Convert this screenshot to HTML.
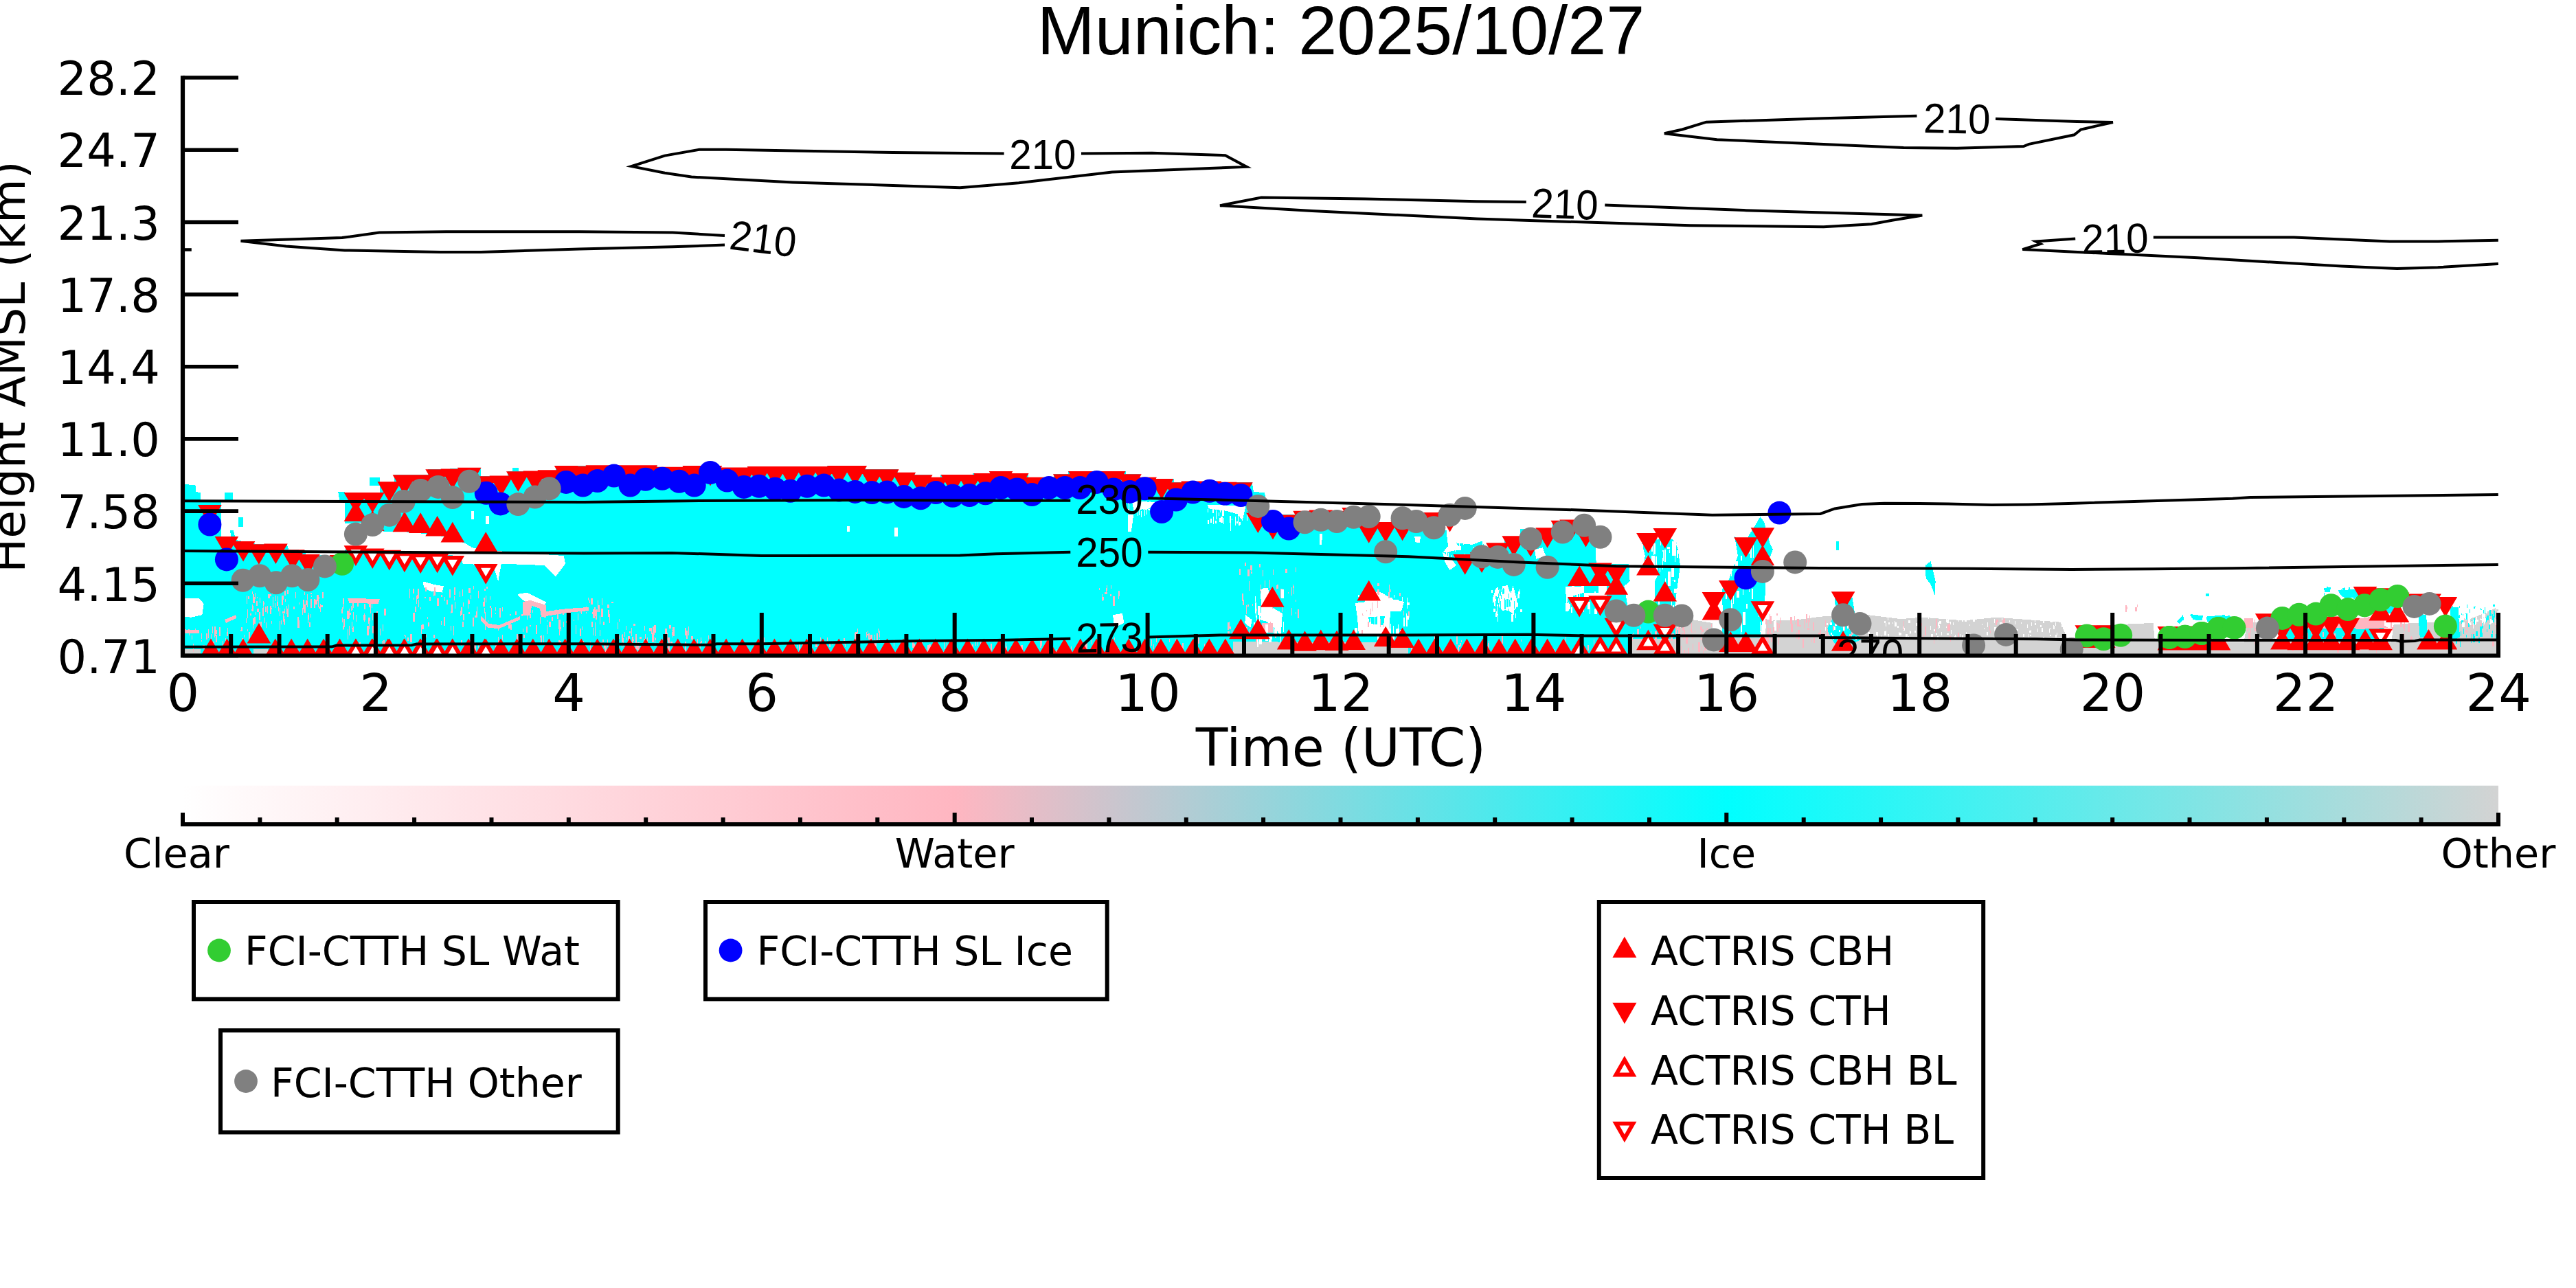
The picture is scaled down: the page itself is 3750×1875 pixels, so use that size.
<!DOCTYPE html>
<html lang="en"><head><meta charset="utf-8"><title>Munich: 2025/10/27</title>
<style>html,body{margin:0;padding:0;background:#fff}svg{display:block}.dj{font-family:'DejaVu Sans','Liberation Sans',sans-serif}.ls{font-family:'Liberation Sans',sans-serif}</style></head><body>
<svg width="3750" height="1875" viewBox="0 0 3750 1875">
<rect width="3750" height="1875" fill="#fff"/>
<defs><clipPath id="ax"><rect x="266" y="113" width="3371" height="841.5"/></clipPath>
<linearGradient id="cb" x1="0" x2="1" y1="0" y2="0"><stop offset="0" stop-color="#ffffff"/><stop offset="0.3333" stop-color="#ffb6c1"/><stop offset="0.6667" stop-color="#00ffff"/><stop offset="1" stop-color="#d3d3d3"/></linearGradient></defs>
<g clip-path="url(#ax)" shape-rendering="crispEdges">
<polygon points="1794.7,933.7 2050,933.7 2050,960.5 1794.7,960.5" fill="#d3d3d3"/>
<polygon points="2050,930.2 2371.4,930.2 2376.1,916.2 2446,913.9 2464.6,902.2 2492.5,906.9 2492.5,927.9 2569.4,927.9 2571.7,902.2 2609,903.4 2650,897.6 2650,960.5 2050,960.5" fill="#d3d3d3"/>
<polygon points="2650,897.6 2719.9,895.2 2766.5,901.1 2799.1,898.7 2859.6,903.4 2906.2,898.7 2952.8,902.2 2999.4,905.7 3008.7,927.9 3022.7,927.9 3027.3,911.6 3134.5,906.9 3136.8,932.5 3250,934.8 3250,960.5 2650,960.5" fill="#d3d3d3"/>
<polygon points="3150,934.8 3266.5,934.8 3271.1,906.9 3308.4,904.6 3313,934.8 3480.7,934.8 3485.4,909.2 3513.4,906.9 3580.9,904.6 3592.5,902.2 3615.8,892.9 3636.8,883.6 3636.8,960.5 3150,960.5" fill="#d3d3d3"/>
<polygon points="264,704.3 284.9,706.6 284.9,715.9 291.9,717.1 291.9,727.5 322.2,729.9 322.2,781.1 347.8,786.9 371.1,791.6 417.7,792.8 420,799.8 443.3,800.9 445.7,807.9 501.6,809.1 501.6,718.2 552.8,717.1 552.8,701.9 573.8,701.5 573.8,691.4 622.7,691.4 622.7,683.3 699.5,681.4 699.5,693.3 739.1,692.6 739.1,686.3 809,685.2 809,678.2 850,678.2 957.1,677.5 957.1,679.8 994.4,679.8 994.4,678.2 1050.3,678.2 1050.3,680.5 1087.6,680.5 1087.6,679.1 1204,679.1 1204,678.2 1259.9,678.2 1259.9,683.3 1306.5,683.3 1306.5,688 1332.1,688 1332.1,691.4 1355.4,691.4 1355.4,694.9 1369.4,694.9 1369.4,691 1416,691 1416,689.1 1450,689.1 1450,686.1 1473.3,686.1 1473.3,689.1 1496.6,689.1 1496.6,694.9 1533.9,694.9 1533.9,690.3 1554.8,690.3 1554.8,686.1 1638.7,686.1 1638.7,690.3 1658.5,690.3 1658.5,694.9 1682.9,694.9 1682.9,697.3 1708.5,697.3 1708.5,701.5 1822.7,701.5 1825,715.9 1841.3,717.1 1843.6,748.5 1892.5,748.5 1892.5,743.9 1985.7,743.9 1985.7,760.6 2050,760.6 2050,771.8 2105.9,771.8 2108.2,781.1 2157.1,786.9 2161.8,797.4 2189.8,799.8 2189.8,781.1 2213,781.1 2213,769.5 2259.6,769.5 2259.6,760.2 2317.9,760.2 2322.5,790.4 2323.7,820.7 2371.4,820.7 2372.6,846.3 2364.4,853.3 2371.4,892.9 2413.4,897.6 2441.3,904.6 2443.6,927.9 2443.6,960.5 2050,960.5 264,960.5" fill="#00ffff"/>
<polygon points="2390.1,790.4 2399.4,781.1 2413.4,785.8 2422.7,776.5 2441.3,790.4 2446,823 2441.3,858 2436.6,895.2 2408.7,895.2 2408.7,846.3 2413.4,837 2392.4,837 2394.7,809.1" fill="#00ffff"/>
<polygon points="2506.5,858 2515.8,846.3 2529.8,809.1 2525.2,781.1 2539.1,790.4 2557.8,760.2 2562.4,752 2568.2,760.2 2576.4,790.4 2581.1,799.8 2571.7,823 2569.4,869.6 2562.4,927.9 2506.5,927.9" fill="#00ffff"/>
<polygon points="326.9,717.1 338.5,717.1 338.5,727.5 326.9,727.5" fill="#00ffff"/>
<polygon points="346.7,753.2 353.6,753.2 353.6,767.1 346.7,767.1" fill="#00ffff"/>
<polygon points="335,771.8 339.7,771.8 342,781.1 336.2,781.1" fill="#00ffff"/>
<polygon points="537.7,694.9 552.8,694.9 552.8,706.6 537.7,706.6" fill="#00ffff"/>
<polygon points="492.2,715.9 501.6,715.9 501.6,729.9 494.6,729.9" fill="#00ffff"/>
<polygon points="746.1,681 755.4,681 755.4,686.8 746.1,686.8" fill="#00ffff"/>
<polygon points="2673.3,788.1 2676.8,788.1 2676.8,800.9 2673.3,800.9" fill="#00ffff"/>
<polygon points="2802.6,823 2810.7,817.2 2817.7,846.3 2816.5,866.1 2810.7,851 2803.7,841.7" fill="#00ffff"/>
<polygon points="2671,869.6 2696.6,869.6 2700.1,892.9 2691.9,916.2 2710.6,930.2 2696.6,937.2 2671,937.2 2659.3,916.2 2672.1,892.9" fill="#00ffff"/>
<polygon points="3211.3,863.8 3216,863.8 3216,867.8 3211.3,867.8" fill="#00ffff"/>
<polygon points="3169.4,905.7 3177.6,895.2 3178.7,902.2 3172.9,908.1" fill="#00ffff"/>
<polygon points="3188,895.2 3206.7,896.4 3205.5,903.4 3192.7,902.2" fill="#00ffff"/>
<polygon points="3211.3,897.6 3246.3,896.4 3250,906.9 3213.7,904.6" fill="#00ffff"/>
<polygon points="3168.6,904.6 3178,895.2 3179.1,902.2 3172.1,906.9" fill="#00ffff"/>
<polygon points="3188.4,894.1 3207.1,896.4 3205.9,902.2 3191.9,901.1" fill="#00ffff"/>
<polygon points="3211.7,897.6 3238.5,895.2 3238.5,902.2 3212.9,904.6" fill="#00ffff"/>
<polygon points="3211.7,863.8 3216.4,863.8 3216.4,867.8 3211.7,867.8" fill="#00ffff"/>
<polygon points="3382.9,855.7 3392.2,856.8 3392.2,861.5 3384.1,861.5" fill="#00ffff"/>
<polygon points="3403.9,859.1 3429.5,858 3436.5,869.6 3413.2,870.8 3406.2,865" fill="#00ffff"/>
<polygon points="3520.3,892.9 3532,895.2 3534.3,927.9 3522.7,927.9" fill="#00ffff"/>
<polygon points="3566.9,883.6 3578.6,883.6 3580.9,927.9 3569.3,932.5" fill="#00ffff"/>
<polygon points="3473.8,883.6 3485.4,881.3 3483.1,892.9 3474.9,892.9" fill="#00ffff"/>
<polygon points="501.6,762.5 529.5,760.2 559.8,774.1 599.4,774.6 646,781.1 676.2,790.4 687.9,797.4 725.2,802.1 820.7,809.1 823,820.7 809,839.3 792.7,823 729.8,820.7 725.2,846.3 718.2,823 673.9,820.7 669.3,809.1 501.6,799.8" fill="#ffffff"/>
<polygon points="264,870.8 289.6,870.8 296.6,878.9 294.3,895.2 278,898.7 264,897.6" fill="#ffffff"/>
<polygon points="615.7,846.3 632,851 646,853.3 643.6,862.6 625,860.3 616.8,854.5" fill="#ffffff"/>
<polygon points="753.1,865 767.1,862.6 795,876.6 792.7,881.3 769.4,877.8 760.1,873.1" fill="#ffffff"/>
<polygon points="685.6,743.9 690.2,743.9 690.2,755.5 685.6,755.5" fill="#ffffff"/>
<polygon points="706.5,750.8 712.3,750.8 712.3,762.5 706.5,762.5" fill="#ffffff"/>
<polygon points="1233.2,766 1236.6,766 1236.6,773.7 1233.2,773.7" fill="#ffffff"/>
<polygon points="1301.9,768.3 1306.5,768.3 1306.5,781.1 1301.9,781.1" fill="#ffffff"/>
<polygon points="1648,729.9 1682.9,731 1673.6,740.4 1650.3,742.7" fill="#ffffff"/>
<polygon points="1642.2,748.5 1650.3,748.5 1646.8,774.1 1642.2,774.1" fill="#ffffff"/>
<polygon points="1757.5,734.5 1813.4,736.9 1808.7,757.8 1801.7,748.5 1785.4,743.9 1759.8,740.4" fill="#ffffff"/>
<polygon points="1834.3,858 1846,855.7 1850.6,883.6 1866.9,892.9 1864.6,925.5 1853,911.6 1843.6,904.6 1834.3,902.2 1836.6,883.6" fill="#ffffff"/>
<polygon points="1813.4,895.2 1822.7,902.2 1820.3,913.9 1812.2,906.9" fill="#ffffff"/>
<polygon points="1620,895.2 1634,892.9 1636.3,906.9 1622.4,913.9" fill="#ffffff"/>
<polygon points="1973,878 1990,876 2004,861 2012,863 2026,872 2044,876 2040,890 2024,890 2022,925 1978,925 1976,900" fill="#ffffff"/>
<polygon points="1920.5,776.5 1925.2,776.5 1924,792.8 1921,792.8" fill="#ffffff"/>
<polygon points="2105.9,776.5 2159.5,786.9 2143.2,792.8 2119.9,790.4 2126.9,799.8 2101.2,804.4 2112.9,813.7 2119.9,823 2110.6,830 2103.6,818.4 2100.1,804.4 2108.2,795.1" fill="#ffffff"/>
<polygon points="2059.3,781.1 2068.6,781.1 2066.3,790.4 2060.5,789.3" fill="#ffffff"/>
<polygon points="2176.9,858 2180.4,854.5 2183.9,869.6 2187.4,853.3 2194.4,852.2 2199.1,865 2202.6,852.2 2207.2,869.6 2209.5,881.3 2201.4,892.9 2194.4,887.1 2187.4,889.4 2181.6,882.4 2175.8,883.6 2173.4,869.6" fill="#ffffff"/>
<polygon points="2280.6,854.5 2306.2,853.3 2306.2,869.6 2338.8,869.6 2338.8,853.3 2327.2,853.3 2327.2,862.6 2306.2,862.6 2282.9,869.6 2279.4,885.9" fill="#ffffff"/>
<polygon points="2234,799.8 2245.7,797.4 2250.3,809.1 2236.3,813.7" fill="#ffffff"/>
<polygon points="3318,912 3470,912 3470,932 3318,932" fill="#00ffff"/>
<polygon points="1992,898 2016,897 2014,910 1994,908" fill="#00ffff"/>
<polygon points="264,945.3 291.9,945.3 291.9,960.5 264,960.5" fill="#d3d3d3"/>
<polygon points="368.8,945.3 389.8,945.3 389.8,960.5 368.8,960.5" fill="#d3d3d3"/>
<polygon points="1794.7,933.7 1859.9,933.7 1859.9,934.8 2050,934.8 2050,960.5 1794.7,960.5" fill="#d3d3d3"/>
<polygon points="2371.4,930.2 2446,930.2 2446,960.5 2371.4,960.5" fill="#d3d3d3"/>
<polygon points="3318,906 3400,906 3470,900 3470,914 3318,915" fill="#ffb6c1"/>
<polygon points="761,876 772,874 795,881 795,899 788,898 786,886 774,882 772,896 761,896" fill="#ffb6c1"/>
<polygon points="506.2,870.8 552.8,872 550.5,878.9 508.5,877.8" fill="#ffb6c1"/>
<polygon points="700,897 712,908 727,910 757,897 757,902 727,915 710,914 700,904" fill="#ffb6c1"/>
<polygon points="795,890 826,886 857,884 857,889 826,892 795,897" fill="#ffb6c1"/>
<polygon points="326.9,902.2 343.2,895.2 344.3,899.9 329.2,906.9" fill="#ffb6c1"/>
<polygon points="264,916.2 289.6,917.4 289.6,922 264,922" fill="#ffb6c1"/>
<polygon points="3266.5,899.9 3280.4,899.9 3280.4,913.9 3266.5,913.9" fill="#ffb6c1"/>
<polygon points="3424.8,902.2 3452.8,897.6 3476.1,913.9 3429.5,916.2" fill="#ffb6c1"/>
<polygon points="1836.6,906.9 1853,906.9 1853,920.9 1836.6,920.9" fill="#ffb6c1"/>
<path d="M391.7 865.4h3v2.6h-3zM452 862.6h2v2.7h-2zM413.9 859.8h2v7h-2zM381.6 884.9h1v11.9h-1zM367.5 868.9h3v9h-3zM360 886.6h1v13.7h-1zM358.1 900h1v7h-1zM418 885.9h2v11.8h-2zM374.4 886.4h3v4.3h-3zM364.3 892.8h2v2.7h-2zM377.4 891.3h2v11.3h-2zM408.9 903.1h1v5.6h-1zM448.7 892.2h1v3h-1zM388.9 882.2h1v10.8h-1zM387.4 905.9h1v8.1h-1zM372.5 874.7h2v7.1h-2zM469 861.8h2v8.9h-2zM458.5 873.3h3v6.2h-3zM412.6 897h1v12.1h-1zM466.9 881.2h3v2.8h-3zM441 873.1h2v13.9h-2zM452 871.9h2v12.6h-2zM394.5 904h1v4h-1zM366.7 860.9h1v3.6h-1zM382.5 877.1h2v3h-2zM406.9 884.9h1v11.8h-1zM457.1 871.6h2v13.8h-2zM435.2 876.6h1v3.8h-1zM373.8 869.3h1v2.1h-1zM453.1 866.9h1v2h-1zM403.2 876h2v5.8h-2zM367.7 900h2v9.9h-2zM442.1 880.3h3v11.6h-3zM400 877.5h1v7.8h-1zM401 867.3h1v7.3h-1zM365.8 887.4h1v2h-1zM370.8 862.9h1v9.4h-1zM361 868.2h2v3.8h-2zM383 875h1v7.7h-1zM366.5 881.9h2v7.8h-2zM390.3 865h3v6.1h-3zM384.6 898.5h1v8.2h-1zM377.3 904.5h1v3.8h-1zM418.3 859.3h2v5.6h-2zM430.4 862.4h1v8.2h-1zM462.5 875.4h1v8.4h-1zM446.8 874.1h1v9.4h-1zM448 895.1h1v11.7h-1zM451.6 894.2h1v4.4h-1zM412.2 893.7h1v11.5h-1zM409.7 867.5h2v13.5h-2zM406.7 903.8h1v13.5h-1zM396.6 868.8h1v7.6h-1zM393.4 881.6h2v12.1h-2zM410.6 889.9h3v3h-3zM432.5 902.5h3v11h-3zM410.4 866.7h3v6h-3zM449.5 905.5h2v7.6h-2zM442.5 862.1h1v4h-1zM367.9 865.4h2v11.7h-2zM370.2 898.4h2v9.9h-2zM394.9 884.8h1v2.3h-1zM449.3 893.5h1v8.3h-1zM465.6 879.2h1v11.9h-1zM378 870.3h1v8h-1zM445 873.9h2v7h-2zM368.4 902.5h1v12.8h-1zM432.7 897.8h2v7h-2zM463.6 882.5h2v3.8h-2zM414.3 900.7h1v9.3h-1zM446.5 865.3h1v7.7h-1zM440.3 885.2h1v10.2h-1zM416.8 881.6h1v12.6h-1zM359.4 867.3h1v11.3h-1zM414 885.5h1v7.3h-1zM426.7 882.7h2v4.4h-2zM386.1 882.8h2v8.1h-2zM382.5 883.6h1v13.1h-1zM460.6 867.9h2v3.6h-2zM367.2 879.6h1v10.1h-1zM404.4 868.4h1v11.4h-1zM461.1 865.5h3v9.7h-3zM396.8 870.4h1v13.6h-1zM379.1 904.6h2v12.6h-2zM372.2 890.6h1v3.9h-1zM404.7 883.2h1v7.1h-1zM395.7 862.5h1v2.2h-1zM419.6 879.5h1v6.6h-1zM415.2 872.4h1v3.4h-1zM463.7 869.2h1v3h-1z" fill="#ffb6c1"/>
<path d="M514 911.8h1v5.2h-1zM505 889.3h3v11.8h-3zM513.2 876.6h2v8.8h-2zM540.9 873.8h1v11.6h-1zM508.4 911.3h1v13.3h-1zM536.8 907h1v9.3h-1zM510.9 881.9h1v7.4h-1zM518.2 895.4h1v9.5h-1zM499.6 902.7h1v13.6h-1zM513.4 878.1h1v9.5h-1zM530.3 879.2h2v8h-2zM508.1 885.8h1v13.9h-1zM499.2 870.5h2v8.6h-2zM508.8 891.7h2v3.3h-2zM548.4 889.8h2v8.6h-2zM552.8 914.8h1v10.3h-1zM558.7 885.6h3v10.7h-3zM505.7 915.7h1v12h-1zM497.8 898.8h1v7.2h-1zM500.4 900.6h2v12.4h-2zM539.1 882.8h1v10.3h-1zM499.7 878.3h1v7.3h-1zM513.4 914.4h2v5.9h-2zM499.1 910.7h1v6.3h-1zM497 887.4h2v5.3h-2zM538.2 881.2h1v3.1h-1zM548.3 876.3h2v2.5h-2zM498.3 883.8h1v3h-1zM557.1 909.4h1v9.9h-1zM541.9 910.6h2v11.2h-2zM542.2 892.6h1v10.7h-1zM537.3 871.7h3v12.7h-3zM536.3 903.8h2v3.7h-2zM529.8 893.1h1v11.9h-1zM533.6 911.2h3v13.5h-3zM537.3 873.6h1v3.6h-1zM519.6 874.5h2v8.7h-2zM536.4 898.8h3v4.9h-3zM513.5 890.9h1v11h-1zM528.5 894.6h3v8.3h-3zM543.8 891.7h1v12.2h-1zM511.7 904.9h1v10.9h-1z" fill="#ffb6c1"/>
<path d="M712.9 882.1h2v2.9h-2zM705 870.1h1v9.4h-1zM672.6 857.8h1v6h-1zM673.6 893.7h2v8.8h-2zM596.2 856.9h1v13.7h-1zM606.8 866h2v5.5h-2zM657.3 880.4h2v11.2h-2zM715 885.3h1v13.7h-1zM708.1 854.3h2v2.9h-2zM656.1 911.2h1v6.6h-1zM705.7 907.5h1v9h-1zM611.9 883.8h1v3.6h-1zM694.1 882.9h1v10.4h-1zM622.7 905.6h2v6.7h-2zM614 908.6h3v7.4h-3zM631.3 861.5h1v6.5h-1zM609.4 872.6h1v11h-1zM696.4 860.3h1v10.6h-1zM703.9 870.2h1v2.8h-1zM642 904h1v6.3h-1zM646.6 869.3h1v5.4h-1zM601 891.9h3v13.2h-3zM624.9 868.8h2v5.8h-2zM688.4 899h2v12.6h-2zM693.1 890.1h2v8.6h-2zM681.9 856.2h3v6.9h-3zM669.2 861.4h1v7.8h-1zM705.2 885.4h1v7.7h-1zM636.3 870.7h3v10.9h-3zM673.8 877h1v5.6h-1zM662.2 876.3h1v9.7h-1zM603.8 882.5h2v8.6h-2zM649.6 872.7h2v7.1h-2zM661.1 867.5h1v6.1h-1zM605.8 867.2h1v11.7h-1zM619.2 854.5h2v6.6h-2zM685.1 865.6h1v6.1h-1zM602.2 869.5h1v3.5h-1zM655.7 890h1v3.1h-1zM703.3 875.7h3v7.4h-3zM710.3 902.7h1v3.5h-1zM646.2 897.8h2v13.6h-2zM654 857.6h2v12.3h-2zM712.5 867.8h1v4.7h-1zM613.1 909.9h1v13.3h-1zM682.1 891h2v3h-2zM688.8 853.4h1v4.8h-1zM706.1 890.9h1v13.5h-1zM670.6 884.1h2v10.4h-2zM608.3 857.4h2v13.3h-2zM617.9 868.5h2v2h-2zM659.8 911.3h1v13.5h-1zM672.8 904.8h2v8.3h-2zM661 855h2v10.5h-2zM632 854.6h2v12.6h-2zM673.1 858h1v10h-1zM706.8 866.5h1v10.3h-1zM681.7 874.4h2v4.4h-2zM691.3 896.4h2v2.8h-2zM654.8 865h1v4.8h-1zM621.5 897.6h1v3.3h-1zM670.2 888.8h1v7.8h-1zM705 856.6h2v3.8h-2zM642.4 865.7h2v3.7h-2zM601 856.8h2v7.4h-2zM681 871.6h1v14h-1z" fill="#ffb6c1"/>
<path d="M840.8 892.8h1v9.8h-1zM786.2 897.6h1v10h-1zM766.6 894.3h1v7.3h-1zM730.5 884h1v6.2h-1zM844 885.6h1v6.6h-1zM819 892.1h2v3.1h-2zM810.5 888.1h2v13h-2zM741.7 894h2v2.4h-2zM771 909.6h2v2.5h-2zM720.5 883.5h1v5.1h-1zM816.1 912.7h1v6.4h-1zM760.8 914.6h1v5.1h-1zM812 892.3h1v5.6h-1zM812.6 902.1h3v13.4h-3zM724.6 910.1h1v7.7h-1zM844.2 914.6h2v11.5h-2zM838.4 909.7h1v13.1h-1zM740.4 909.3h3v5.6h-3zM808.7 886.6h1v5.9h-1zM758.7 893.9h2v2.9h-2zM742.3 907.6h1v6.9h-1zM803 898.1h2v5.9h-2zM847.4 912.1h1v5.2h-1zM727.1 884.6h2v13.9h-2zM846.3 887.3h1v7h-1zM799.1 904.8h3v8.5h-3zM819.7 907.8h1v5.5h-1zM791.9 894.3h3v5.1h-3zM774.8 887.8h1v3.8h-1zM834.5 901.5h1v2.8h-1zM749.6 889.9h2v4.8h-2zM824.3 904.1h1v3.2h-1zM779.5 909.9h2v13h-2zM721.3 891.5h1v2.6h-1zM796.4 910.2h1v13.2h-1zM765.8 911.5h2v9.2h-2zM819.8 904.5h1v3.3h-1zM795.8 902.9h1v2.4h-1zM761.5 882.8h1v2.5h-1zM814.1 913.2h1v11.8h-1zM770.7 894.3h2v5.7h-2zM743.1 909.1h2v7.8h-2z" fill="#ffb6c1"/>
<path d="M308.6 933.8h3v8.6h-3zM331.2 914.1h1v6.8h-1zM295.2 939.2h3v5.7h-3zM361.9 920.3h2v12.6h-2zM309.1 912.1h1v9.7h-1zM306.9 922.9h1v7.2h-1zM283.9 914.7h1v6.9h-1zM355 924.4h1v3.6h-1zM273.7 915.5h2v3.1h-2zM329.5 921.9h2v4.1h-2zM302.7 916.1h1v13.1h-1zM279.3 925.3h1v5.6h-1zM350.5 912.8h2v5.8h-2zM328.1 929.3h1v12.9h-1zM329.3 934.6h1v9.7h-1zM352.4 928.9h2v12.2h-2zM349.7 916.7h1v2.5h-1zM360.4 915.9h1v3.5h-1zM292.8 931.8h1v2.5h-1zM323.6 932.7h1v10h-1zM300.3 922.4h2v8.6h-2zM330 920.1h2v5.7h-2zM293 922.4h1v7.4h-1zM311.5 912.2h2v13.8h-2zM314.1 924h2v11.4h-2zM313.5 916.6h2v6.8h-2zM275.2 921.6h1v3.1h-1zM311.9 925.8h1v2.5h-1zM281.4 937.3h1v11.3h-1zM318.7 913.1h2v12.7h-2z" fill="#ffb6c1"/>
<path d="M730.6 934.2h1v12.3h-1zM848.7 933.4h1v4.3h-1zM843.7 930.1h1v10.2h-1zM754.1 926.3h1v9.3h-1zM592.9 927.7h2v5.3h-2zM786.6 925.2h2v13.6h-2zM671.3 931.5h2v8.1h-2zM615.9 923.7h1v6.8h-1zM725.1 927.1h1v12.7h-1zM564.2 934.2h1v11.2h-1zM522.9 935.2h2v8.7h-2zM705.6 935.5h1v5h-1zM690.4 935.2h3v11.6h-3zM597.2 937h2v3.8h-2zM619.9 924.3h1v4.1h-1zM761.9 923.9h2v5h-2zM726 937h2v13.1h-2zM814.2 933.4h3v2.4h-3zM557.6 931.8h2v7h-2zM631.4 923.9h2v4.7h-2zM730.7 923.5h1v8.8h-1zM610.6 930.5h2v4.7h-2zM706.8 931.4h1v6.4h-1zM791 925.4h1v13.2h-1zM590 925.3h1v2.8h-1zM556 932.5h1v6.8h-1zM597.1 923.4h3v11.9h-3zM813.1 931.5h2v7.3h-2zM828.4 933.4h1v4h-1zM506.3 924.1h1v6.9h-1zM587.9 924h1v2.1h-1zM695.6 936.3h1v7h-1zM684.4 932.2h3v9.7h-3zM785.8 925.6h1v2.8h-1zM721.4 937.1h3v11.4h-3zM752.2 923.3h2v10.9h-2z" fill="#ffb6c1"/>
<path d="M868.4 886.9h2v4.1h-2zM889.5 875.7h3v2.5h-3zM863.3 887.1h3v13.3h-3zM860.4 870.9h3v8.6h-3zM867.3 888h2v13.7h-2zM861.7 891.3h1v3h-1zM870.1 873.6h1v12.1h-1zM858 873.3h1v4.3h-1zM865.4 883.6h2v12.9h-2zM875 885.8h3v12.1h-3zM871.2 880.6h2v10.4h-2zM884 879.8h3v4.8h-3zM885 888h2v9.5h-2zM853.1 890.8h1v2.4h-1zM854.4 884.1h1v6.1h-1zM855.6 870.3h1v3.7h-1zM875.5 870.6h1v10.8h-1zM852.6 883.4h1v4.4h-1z" fill="#ffb6c1"/>
<path d="M921.6 907.8h3v2.8h-3zM915.9 918.5h2v3.3h-2zM872.7 896h1v13.4h-1zM918.7 914h1v11.9h-1zM900.5 901h1v3.6h-1zM911 911h1v5.8h-1zM887 893.5h1v13.2h-1zM862.5 914.2h1v11.2h-1zM898.6 906.2h1v9.4h-1zM861.3 904.5h2v8.2h-2zM865.7 906h1v8.5h-1zM873.4 917h1v8.9h-1zM878 905.1h2v4.4h-2zM909 920.3h1v6.2h-1zM865.6 912.4h1v13.6h-1z" fill="#ffb6c1"/>
<path d="M977.6 920.3h2v5.1h-2zM1002.1 911.7h1v13.3h-1zM952.4 910.2h3v11.2h-3zM970.4 920.8h2v11.4h-2zM980.1 912.6h2v13.1h-2zM998.5 917.6h2v12.7h-2zM937.9 910.7h1v7.1h-1zM974.3 910.3h3v4.8h-3zM968.4 914.9h3v11h-3zM981.3 912.5h1v8.3h-1zM996.8 913.8h2v10.9h-2zM948 913.7h1v9h-1zM945 914h3v4.9h-3zM949.6 911.9h3v11.9h-3zM979.3 917.3h1v10.7h-1zM978.3 912.5h1v5.9h-1zM949.4 920.6h3v13.9h-3zM947.7 916.5h1v6.6h-1z" fill="#ffb6c1"/>
<path d="M1033.3 935.2h3v5.6h-3zM901 924.9h1v5.4h-1zM1015 930.2h1v6.8h-1zM997.4 933.7h2v13.8h-2zM905.2 923.5h1v9.2h-1zM925.4 934.4h2v10.4h-2zM959.5 933h1v10h-1zM971.6 936.5h3v10.4h-3zM1008.8 933.5h3v3.5h-3zM930.6 927.1h3v3.2h-3zM928.2 935h3v10.6h-3zM879.2 936.1h2v7.5h-2zM965.8 929.4h3v9.9h-3zM1012.7 936.7h1v11.3h-1zM922.4 930.6h1v2.5h-1zM951.2 925.6h1v8.2h-1zM868.8 931.9h2v4.5h-2zM938.6 923.4h1v8.3h-1zM926.5 937.6h1v13.9h-1zM884.2 931h1v10.7h-1zM964.4 932.9h1v5.3h-1zM924.5 923.4h2v13h-2zM967.1 933.4h2v5.2h-2zM891.8 934.4h2v13.7h-2zM1035.3 937.7h2v4.5h-2zM874.1 935h3v4.3h-3zM969.7 934.1h1v6.2h-1zM969 935.6h2v7.6h-2zM904.8 931.5h1v11.4h-1zM937.5 935.1h1v5.2h-1zM920.1 927h2v10.1h-2zM939.7 935.4h1v6.3h-1zM971.9 928h2v7.1h-2zM968.8 933.2h1v3.8h-1zM906.5 929h1v11.9h-1zM1018.8 935.1h1v8.4h-1zM914.3 932h3v2.1h-3zM1027.3 933.1h1v9.3h-1zM957.8 936.1h1v11.3h-1zM914.6 925.5h2v11.5h-2zM881.3 936.7h2v13.7h-2zM866.8 936.8h2v11.5h-2zM1006.3 926.2h3v4.6h-3zM864.6 935.9h3v12.6h-3zM953.4 927.2h1v11.9h-1zM938.2 931.6h2v7.6h-2zM876.9 930.6h2v4h-2zM961.7 934.3h1v12.1h-1zM937.2 931.7h3v5.6h-3zM936.8 929.6h3v2.9h-3zM968.7 932.8h1v2.2h-1zM858.5 934.3h1v11.7h-1zM867.5 930.5h1v2.4h-1zM983.8 932.7h1v3.1h-1zM972.8 928.4h2v8.6h-2zM1020 927.5h1v7.1h-1zM953.2 935.7h1v6.3h-1zM942 928.3h1v12.5h-1zM914.3 926.3h2v11.5h-2zM911.7 928h1v3.5h-1zM1031.3 924.5h1v6.8h-1zM953.3 929.3h2v2.6h-2zM906 923.3h1v11.9h-1zM938.5 934.8h1v11.5h-1zM1019.5 932.5h2v3.8h-2zM975.5 933.6h3v3h-3z" fill="#ffb6c1"/>
<path d="M1245.2 920.1h3v11.2h-3zM1247.6 914.8h1v7.1h-1zM1247.6 923.6h1v6.4h-1zM1276.2 921.9h2v10.5h-2zM1277.8 914.9h1v5.8h-1zM1260.7 920.2h1v8h-1zM1264.3 922.3h2v8.9h-2zM1280 917.9h1v10.2h-1zM1267.1 924.3h3v13.8h-3zM1262.5 917.5h1v3h-1zM1262.3 923.1h3v2.2h-3zM1243.8 920.7h1v13.8h-1zM1277.6 915.3h1v3.5h-1zM1244.3 921.1h1v7.4h-1zM1273.1 923.5h1v11.3h-1z" fill="#ffb6c1"/>
<path d="M1351.5 937.8h3v11.1h-3zM1207 934.3h2v7.5h-2zM1426.7 930.8h1v10.6h-1zM1110.1 928h3v10.2h-3zM1318.7 932.4h1v10.8h-1zM1163.3 937.9h2v9.3h-2zM1214.9 938.9h3v7.3h-3zM1338.9 929.5h1v6.4h-1zM1327.9 935.2h2v7.7h-2zM1373.7 933.1h1v11.4h-1zM1301.1 931.3h1v9.5h-1zM1330 937.2h2v6h-2zM1314.5 939.2h1v9.2h-1zM1212.3 932.8h1v6.5h-1zM1341.6 934.9h1v11.7h-1zM1203.6 927.9h1v5.2h-1zM1160.3 938.6h1v5.5h-1zM1154.6 938.2h2v3.8h-2zM1441.5 937.1h2v10.2h-2zM1420.3 931.9h1v8.5h-1zM1272.9 932.3h3v13.2h-3zM1186.7 934.9h3v6.7h-3zM1349.7 938.6h2v11h-2zM1378.4 933.2h1v8.4h-1zM1228.3 928.6h2v9h-2zM1414.6 938.2h2v5.9h-2zM1280.2 930.2h1v4.3h-1zM1168.3 936h1v8.9h-1zM1229.6 936.9h1v5h-1zM1423.4 933.6h1v6.5h-1zM1265.5 928.8h1v9.2h-1zM1224.8 933.9h1v3.1h-1zM1176.6 938h2v7.8h-2zM1301.2 930.9h1v7.1h-1zM1431.6 936.8h2v13.6h-2zM1193.5 928.3h1v13.9h-1z" fill="#ffb6c1"/>
<path d="M1611.4 851.5h1v8.7h-1zM1627.5 859.5h1v12.4h-1zM1619.9 868.2h3v13.5h-3zM1607.5 861.5h3v3.1h-3zM1629.1 860.4h1v7.4h-1zM1604.3 869h3v4.7h-3zM1600.3 855.8h1v2.7h-1zM1617.1 851.5h1v5.1h-1zM1615.8 864.8h2v2.7h-2zM1603.8 865.1h1v10.1h-1zM1608.8 862h3v3.3h-3zM1609.6 855.8h1v6.5h-1z" fill="#ffb6c1"/>
<path d="M1834.7 851.3h1v13h-1zM1882.5 853.3h1v11.6h-1zM1814 880.5h1v13.2h-1zM1880.1 884.6h1v11.3h-1zM1888.6 887.4h2v12.1h-2zM1857.9 852.1h1v5.9h-1zM1821.2 827h1v3.7h-1zM1820 822.6h3v7.4h-3zM1882.2 851.1h1v5.2h-1zM1837.7 830h1v8.9h-1zM1827 878.3h1v7.9h-1zM1829 885.7h1v3.8h-1zM1847.2 865.4h3v13.1h-3zM1851.5 880.6h1v5.1h-1zM1818.2 845.5h1v14h-1zM1885.6 825.7h1v7h-1zM1814.5 880.4h1v3.7h-1zM1859 851.3h2v6.1h-2zM1812.4 818.5h2v5.4h-2zM1832.9 821.4h2v4.6h-2zM1852.6 828.7h1v8.3h-1zM1820.8 831.5h2v3h-2zM1807.5 863.7h2v11.1h-2zM1815.7 828.6h3v10.5h-3zM1875 861.8h1v2.1h-1zM1863.9 857.1h3v13h-3zM1847.7 844.3h1v12.1h-1zM1879.9 855.1h1v6.9h-1zM1870.5 828.3h3v5.2h-3zM1816.7 880.4h1v2.4h-1zM1864.8 861.2h1v6.3h-1zM1886.2 890.6h1v3.4h-1zM1866 879.2h1v11.3h-1zM1880.3 861.3h1v5.5h-1zM1809.4 872.9h2v8.2h-2zM1848.8 858.4h1v4.9h-1zM1807.6 864.5h1v3.2h-1zM1822.7 879.3h1v2.2h-1zM1885.7 873.4h1v2.2h-1zM1855.2 861.4h2v4.9h-2zM1840.8 844.5h1v10.6h-1zM1803.6 827.6h2v9h-2z" fill="#ffb6c1"/>
<path d="M1849.3 905.1h1v6.9h-1zM1796.9 917.4h1v3.8h-1zM1833.4 921.4h1v13.4h-1zM1787 918.5h3v7h-3zM1855.8 915.7h2v13.6h-2zM1789.8 911.5h2v4.9h-2zM1813.5 913.4h2v11.7h-2zM1861.9 923.1h2v2.6h-2zM1828.8 926.8h1v5h-1zM1820.8 918.4h1v3.3h-1zM1801.1 910.5h1v8.1h-1zM1787.2 905.8h2v11.3h-2zM1864 918.5h1v2.4h-1zM1839.2 909h3v9.5h-3zM1838.1 922.9h1v9.5h-1zM1806.4 915.6h2v4.8h-2zM1788.7 905.1h1v9.8h-1zM1795.5 917.5h2v12.8h-2zM1792.5 917.4h1v7.3h-1zM1828.3 924.9h2v8.9h-2zM1808.4 921.1h3v8.6h-3zM1855.8 917.9h2v4.7h-2zM1817.8 916.3h1v7.5h-1zM1831.4 917.9h2v11.8h-2z" fill="#ffb6c1"/>
<path d="M1460.5 934.1h1v8.1h-1zM1579.4 938.8h1v13.1h-1zM1504.8 945.6h1v8.7h-1zM1616 933.2h1v5.5h-1zM1710.8 930.8h1v9.3h-1zM1567.5 940.1h2v6.7h-2zM1598.6 941.6h1v8.3h-1zM1784.1 940.5h1v7h-1zM1675.7 930.5h1v9.4h-1zM1737.1 943.2h2v3.1h-2zM1739.2 945h2v5.2h-2zM1663 939.6h3v3.5h-3zM1744.1 927.9h2v9h-2zM1618.2 945.8h2v3.8h-2zM1737.1 933.1h2v9.3h-2zM1578.2 936.3h2v5.5h-2zM1569.1 934.4h2v8.7h-2zM1579.9 933.9h3v12.2h-3zM1618.7 936.1h1v8.4h-1zM1721.2 936h2v9h-2zM1479.7 945h1v13.6h-1zM1655.4 932.4h1v4.5h-1zM1594 944.8h1v2.3h-1zM1536.6 944.6h1v13h-1zM1711.2 937.9h2v8.2h-2zM1624.7 940.6h2v7.6h-2zM1463.7 940.5h2v13.4h-2zM1678.5 937.6h1v6.9h-1zM1619.2 939.9h2v3.9h-2zM1513.6 935.7h2v7.3h-2zM1660.9 946.4h1v10.3h-1zM1702.1 929.6h1v5.8h-1zM1780.4 943.2h2v4.1h-2zM1671.5 933.4h1v11.8h-1zM1784.4 944.4h2v9.6h-2zM1627 943.1h1v8.1h-1zM1513.5 931.3h3v8.8h-3zM1486 938.5h3v9.6h-3zM1464.3 935.5h1v5.7h-1zM1683.3 927.9h1v6.8h-1zM1483.3 928.1h1v4.4h-1zM1618.1 938.2h1v12.5h-1zM1752.5 937.4h1v8.9h-1zM1588.8 930.1h1v8.2h-1zM1622.1 928.4h1v4h-1zM1626.5 943.2h2v7.2h-2zM1720.3 940h3v11.2h-3zM1559 941.2h1v5.3h-1z" fill="#ffb6c1"/>
<path d="M1983.3 893.3h2v2.8h-2zM1994.3 892.8h1v2.7h-1zM2042.5 889h1v7.3h-1zM2023.8 857.9h1v3.9h-1zM2021.5 850.9h1v12.8h-1zM2037.3 863h2v5h-2zM2042.2 926h1v4.9h-1zM2007.9 901.6h1v7h-1zM2008.5 901h1v11.5h-1zM1997.8 850.9h1v6.5h-1zM1981.6 916.9h2v8.7h-2zM1989 884.4h2v6h-2zM2026 924.2h2v11.9h-2zM2005.3 857.5h1v7.6h-1zM2004.8 875.3h1v10h-1zM2004.6 849.2h3v3.6h-3zM1994.6 885.5h1v8.7h-1zM2013.3 908.8h1v3.9h-1zM2005.4 902h2v9.6h-2zM2021.1 862.4h2v8.1h-2zM1996.7 876.9h1v13.3h-1zM2049.9 890.2h2v9.1h-2zM2006.4 857.6h2v8.1h-2zM1989.7 904.6h3v8.2h-3z" fill="#ffb6c1"/>
<path d="M1847.9 875.2h2v2.5h-2zM1856.1 866.1h1v8.2h-1zM1826.7 868.4h1v7.1h-1zM1853.5 863.5h2v16.6h-2zM1860.2 910.4h1v3.1h-1zM1837.2 872h1v15.1h-1zM1841.3 881.3h2v14.4h-2zM1863.8 917.8h1v17h-1zM1830.9 882.1h4v13.1h-4zM1864.5 857.5h4v13.2h-4zM1834.2 916.8h1v16.5h-1zM1827.2 876.7h1v16.6h-1zM1856.9 907.1h1v8.5h-1zM1851 886.8h1v4.5h-1zM1857.1 895.5h4v12.2h-4zM1831 916.3h2v10h-2zM1846.9 922.5h4v12.9h-4zM1838.9 855.7h4v6.6h-4zM1824.7 917.3h2v13.1h-2zM1868 904.8h1v14.7h-1zM1832.5 921.7h4v16.6h-4zM1842.1 909.4h4v11.8h-4zM1833 893.7h1v17.1h-1zM1842.4 922.8h4v10h-4zM1854.7 916.2h4v9.2h-4zM1825.2 906.1h2v12.8h-2zM1862.1 911.8h2v14.2h-2zM1824.7 906.4h2v6.2h-2zM1848.1 925.6h4v5.8h-4zM1834.8 925.2h1v7.7h-1zM1841.8 870.2h1v4.2h-1zM1854.6 890.8h2v5.8h-2zM1833.9 892.9h2v4.1h-2zM1852.5 906.1h1v16.2h-1zM1829.3 896.3h1v12.1h-1zM1828.2 886.3h1v12.8h-1zM1829.9 926.4h2v15.3h-2zM1828 876.5h1v9.8h-1zM1824.7 920.3h1v5.2h-1zM1855.4 888h1v4.6h-1z" fill="#ffffff"/>
<path d="M2006.6 899.4h1v4.7h-1zM1977.4 865.6h2v3.3h-2zM2027.9 924.3h2v6.2h-2zM2022.2 922.9h2v5h-2zM2014.2 865.5h1v12.3h-1zM2020.9 921.6h4v13.2h-4zM2022.8 869.7h4v2.4h-4zM2032.3 915.8h1v7.9h-1zM2047 896.8h4v4.7h-4zM2033.1 915.3h4v11.9h-4zM2001.4 904.2h1v7.1h-1zM2000.6 898.3h1v15.4h-1zM1991.6 868.5h1v11.1h-1zM2020.9 914.6h4v8.5h-4zM1975.7 878.1h2v10h-2zM1984.1 883.1h2v12h-2zM1982.8 878.7h1v9.1h-1zM2047.6 870.4h1v15.6h-1zM2009.3 878.2h1v2h-1zM2037.5 916.8h2v8.8h-2zM1993.9 905h2v13.4h-2zM2041.4 868.8h1v12.7h-1zM2036.4 919.7h1v8.1h-1zM1972.1 913.7h4v7.6h-4zM1987 870.1h1v10.3h-1zM2005.3 897.3h4v15.8h-4zM2048 923.2h2v3.3h-2zM2035.1 908.7h1v11.7h-1zM1995 899.6h1v9.7h-1zM2022.4 883.1h1v10.5h-1zM2021.3 916.3h1v12.9h-1zM2006.7 870.1h4v11.3h-4zM2015.2 922.1h1v10.5h-1zM2015.9 889h1v5.6h-1zM2047.5 877.3h4v3.8h-4zM2039.2 880.3h1v5h-1zM2024.2 907.9h1v10.9h-1zM1989.5 899.7h1v13.8h-1zM2042.9 899.3h2v12.9h-2zM2034.4 873.1h2v10.8h-2zM2027.7 910.8h1v12h-1zM2046.9 896.2h2v15.3h-2zM2002.4 875.3h1v11h-1zM2032.4 873.3h2v2.9h-2zM1990.3 887.5h1v13.2h-1zM2046.5 892.8h1v13.3h-1zM2005.1 918.8h2v17.8h-2zM1987.5 871.9h4v15.9h-4zM1984.9 910.1h1v14.9h-1zM2029.3 865.7h1v4h-1z" fill="#ffffff"/>
<path d="M1657.5 739.6h1v10.7h-1zM1642.9 737.4h1v6.3h-1zM1655.5 737.4h1v13.1h-1zM1670.9 731.7h1v10.3h-1zM1641.9 743.7h2v3.4h-2zM1641.9 729.3h1v4.2h-1zM1665.5 732.3h3v10h-3zM1678 737.1h1v8.5h-1zM1671.5 740.7h2v2.2h-2zM1656.1 730h2v7.8h-2zM1642.4 741.2h1v4.2h-1zM1677.2 738.6h2v12.1h-2zM1683.8 738.8h2v6.7h-2zM1679.6 737.5h1v6.3h-1zM1664.4 732.6h1v9.1h-1zM1642.9 730.3h1v10.7h-1zM1655.7 735.2h1v5.8h-1zM1655.8 735.4h1v2.2h-1zM1661.3 743.6h1v9.6h-1zM1673.2 729.9h2v5.3h-2zM1663.1 731.8h2v8.9h-2zM1666.9 729.8h3v2.4h-3zM1665.8 740.1h1v11.3h-1zM1669 737.9h1v11.5h-1zM1676.1 731.4h1v10.2h-1z" fill="#ffffff"/>
<path d="M1775.2 753.5h3v6.4h-3zM1807.1 739.1h2v10.6h-2zM1776.9 751.9h3v5.9h-3zM1815 745.7h1v12.7h-1zM1804.6 760.1h1v3.6h-1zM1757.9 756.5h2v6.9h-2zM1780.5 753.8h1v9h-1zM1765.8 752.3h1v10.7h-1zM1789.6 758.4h1v2.9h-1zM1768.5 758.1h2v4.1h-2zM1791.3 759.8h1v13.6h-1zM1797.6 752.4h1v12.1h-1zM1776 737.1h1v8.6h-1zM1801.6 749.7h1v10.5h-1zM1770.2 743.4h1v12.7h-1zM1773.9 746.2h1v4.4h-1zM1800.2 759.1h2v2.6h-2zM1761.7 755h2v6.1h-2zM1765.4 737.5h2v9.7h-2zM1758.3 741.2h1v4.5h-1zM1776.5 753.1h3v7.8h-3zM1793 754.6h1v2.7h-1zM1781.6 733.5h3v9.4h-3zM1802.6 759.8h2v5.1h-2zM1784.4 732.6h1v8.8h-1zM1815 733.8h2v10.5h-2zM1806.1 736.6h1v3.9h-1zM1765.8 753.6h1v6.3h-1zM1778.5 741.8h3v9.1h-3zM1789.8 750.6h2v8.9h-2z" fill="#ffffff"/>
<path d="M2123.4 794.9h4v5.8h-4zM2106.3 795.9h4v8.2h-4zM2187.8 788.7h1v4.9h-1zM2149.2 782h1v2.1h-1zM2144.6 796.2h1v3.2h-1zM2157.8 786.7h1v9.5h-1zM2157.4 776.4h2v6h-2zM2151.4 778.6h2v4.9h-2zM2116.4 778.4h4v8.8h-4zM2170.7 791.5h1v8.2h-1zM2124.5 808.4h2v3.7h-2zM2182.2 805.4h2v5.7h-2zM2131.5 805.5h1v7.3h-1zM2104.9 801.9h2v7.4h-2zM2133.8 780.3h2v5.3h-2zM2182.8 807h4v8.9h-4zM2106.2 772.6h4v5.5h-4zM2123.5 779.4h2v7.1h-2zM2129.3 808.9h1v9.9h-1zM2171.7 789.6h1v9.6h-1zM2115.3 783h1v4.7h-1zM2145.4 805h1v4.6h-1zM2156.2 807.5h1v6.6h-1zM2179.7 779.6h4v4.9h-4zM2170.8 804h1v5.5h-1zM2115.6 806.7h4v2.2h-4zM2113.2 808.1h1v3.1h-1zM2129.7 790.5h1v2.8h-1zM2118.1 797.2h1v5.3h-1zM2158.9 796.6h2v9.1h-2zM2188 773h1v3.6h-1zM2157.6 772.4h1v6h-1zM2123.5 787.8h1v7.8h-1zM2107.7 805.1h1v9h-1zM2114 790h1v6.2h-1z" fill="#ffffff"/>
<path d="M2171.2 859.1h2v3.8h-2zM2202.1 872h1v8.4h-1zM2206.3 893.3h1v6.2h-1zM2180.1 893.7h1v10.8h-1zM2182.6 856.9h1v5.2h-1zM2211.6 857.8h1v6.9h-1zM2194.5 865.6h1v5.9h-1zM2172.9 869.8h1v8.6h-1zM2200.1 894.4h3v10.6h-3zM2187.9 863.5h2v6.6h-2zM2177.5 884.1h2v11.6h-2zM2208.8 878.2h1v9.3h-1zM2210 860.5h2v10.8h-2zM2212.7 887.1h3v3.4h-3zM2206.5 885.2h3v2.6h-3zM2200.2 863.8h3v7.3h-3zM2199.1 869.9h2v2h-2zM2202.4 888.4h2v6.1h-2zM2194 866.4h3v11.5h-3zM2207.6 865.2h1v6.7h-1zM2193.2 877.2h3v11.9h-3zM2174.1 885.8h3v4.7h-3zM2196.8 861h2v12.3h-2zM2185.7 876.1h2v4.7h-2zM2177.1 891.9h2v6.4h-2z" fill="#ffffff"/>
<path d="M2182.5 861.2h1v5.3h-1zM2181.4 882.5h2v4.5h-2zM2206.7 883.6h3v14.1h-3zM2177.2 868.1h2v3.7h-2zM2180.8 863.9h1v7.1h-1zM2197.4 872.7h1v8.3h-1zM2178.6 868.6h2v11.7h-2zM2190.4 871.3h1v12.6h-1zM2180.7 877.8h1v8.8h-1zM2197.3 876h2v6.8h-2zM2188.2 856.2h1v2h-1zM2184.2 874.9h1v12.1h-1zM2184.7 866.2h1v5.7h-1zM2190.1 872.8h2v14h-2zM2182.4 869.5h1v10.7h-1zM2187.9 857.1h2v7.3h-2zM2177.1 880.2h2v8h-2zM2195.6 864h1v7.4h-1zM2194.6 885.8h1v15.7h-1zM2203.5 874.6h1v11.3h-1zM2186.5 858h2v7.3h-2zM2192.9 871.8h3v12.6h-3zM2176.6 875h2v15.1h-2zM2198.6 869.9h2v4.5h-2zM2177.9 868.6h1v9.2h-1z" fill="#00ffff"/>
<path d="M2332 876h4v4.4h-4zM2313.6 885.5h1v8.6h-1zM2328.4 879.7h1v3.1h-1zM2333.6 872.3h1v3.2h-1zM2284 879.1h2v7.5h-2zM2332 858.4h1v7.8h-1zM2281.8 876.7h2v12.1h-2zM2287.4 866.2h1v12.5h-1zM2287.8 863.5h2v13.8h-2zM2290.4 871.1h2v5.1h-2zM2298.7 860.5h1v8.7h-1zM2311.6 866.7h1v5.7h-1zM2294.5 865.2h2v12.3h-2zM2295 858.5h1v4.5h-1zM2320.8 885.7h4v7.9h-4zM2316.3 864.6h1v4.4h-1zM2338.2 871.7h1v10.8h-1zM2278.8 853.5h2v11.9h-2zM2280.6 859.2h2v5.5h-2zM2324.6 880.9h2v9.3h-2zM2304.7 878.1h1v12.5h-1zM2282 867.2h4v3.5h-4zM2287.2 883.8h2v8h-2zM2279.2 877.9h4v11.6h-4zM2310.8 876.1h4v11h-4zM2330.6 870.9h1v3.7h-1zM2338.1 858.7h1v7.6h-1zM2291.4 854.4h1v7h-1zM2321.2 860.6h2v10.2h-2zM2288.4 853.1h4v3.6h-4z" fill="#ffffff"/>
<path d="M2395.8 825.9h1v19.5h-1zM2437.4 857.4h4v5.1h-4zM2444.9 811.1h1v5h-1zM2437.5 890.5h2v21.5h-2zM2406.8 790.7h1v6.5h-1zM2421 783.1h2v5h-2zM2397.4 812.2h2v4.3h-2zM2439.4 786.6h1v21.9h-1zM2446.7 835.5h1v11.8h-1zM2386.6 866.4h1v6h-1zM2403.7 808.5h2v12.8h-2zM2391.2 788.7h1v17.4h-1zM2435.3 881.3h2v20.5h-2zM2387.5 844.3h1v8.9h-1zM2447 851.3h1v5.4h-1zM2408.2 830.1h1v16.8h-1zM2397.1 867.2h1v18.2h-1zM2432.6 826.9h4v13h-4zM2436.8 843.9h2v2.7h-2zM2388 842h2v14.9h-2zM2394 841.8h1v3.5h-1zM2432.9 860.7h1v5.4h-1zM2446.8 812h4v19.5h-4zM2416.7 789.9h1v4.1h-1zM2401 790.3h1v12.7h-1zM2393.1 828.5h1v13.4h-1zM2388.1 802.8h1v7.7h-1zM2421.6 891.5h1v16.5h-1zM2420.3 800.8h1v2.3h-1zM2446.9 831h4v13.4h-4zM2430.3 799.6h1v5.1h-1zM2402.6 775.5h2v14.5h-2zM2392.6 840.8h1v3.7h-1zM2423.1 800.1h2v17.5h-2zM2418.9 871h1v3.5h-1zM2407.4 783.7h1v14.4h-1zM2430.5 870.5h1v3.7h-1zM2434.9 843.5h1v2.2h-1zM2446.7 821.7h2v2.6h-2zM2436.8 789.7h2v15.6h-2zM2395.3 813.5h1v6.1h-1zM2445.7 854.9h4v21.5h-4zM2450.4 867.7h2v2.8h-2zM2419.7 811.8h1v17h-1zM2426.9 795.9h4v3h-4zM2409.2 821.6h4v16.3h-4zM2408.2 791.4h2v15.5h-2zM2434 788.1h4v20.7h-4zM2444.4 862h4v13.8h-4zM2413.8 871.7h2v8h-2zM2448.1 836.2h4v4.3h-4zM2448.6 867.2h1v17h-1zM2440.7 800.9h2v11.2h-2zM2400.8 831.5h4v19.8h-4zM2388.7 852.2h2v17.9h-2zM2429.9 885.9h2v10.1h-2zM2391.1 850.8h1v15.3h-1zM2444.4 823.5h1v2.1h-1zM2417.3 773.8h1v19.6h-1zM2416.4 821.6h1v11.1h-1zM2407.3 797.7h1v9.9h-1zM2415.8 775.7h1v3.8h-1zM2403.1 856.7h2v10.1h-2zM2420.5 801.1h1v15.7h-1zM2388.1 871.5h1v9.8h-1zM2407.1 790.1h1v6.5h-1zM2443.4 845.7h2v8.2h-2zM2406.2 877.9h2v5.8h-2zM2439.6 791.4h2v2.2h-2zM2441.1 784.4h1v11.1h-1zM2438.2 802.2h1v15.5h-1zM2449.6 860.8h2v15.3h-2zM2394.2 863h1v15.3h-1zM2390.4 847.4h2v7.3h-2zM2404.7 808.8h4v14.6h-4zM2409.9 835h4v3.2h-4zM2428.1 831.6h4v21.5h-4zM2389.1 872.9h4v4.4h-4zM2410 809.5h2v19.8h-2zM2432.9 862.6h1v21h-1zM2416.9 772.7h1v4.9h-1zM2423.7 841.7h1v22h-1zM2396.7 843.2h1v14.5h-1zM2401.2 865.4h1v10.4h-1zM2449.2 850.4h4v14.8h-4zM2417.6 889.8h1v15.8h-1zM2403.5 791.4h2v11.9h-2zM2388.6 836.3h1v6h-1zM2438.1 779.3h1v16.8h-1zM2396.5 809.6h1v13.7h-1z" fill="#ffffff"/>
<path d="M2583.4 880.9h1v21.2h-1zM2519.4 806.8h2v5.9h-2zM2530.4 827.2h1v15.6h-1zM2533.7 808.5h2v7.3h-2zM2520.8 901.8h2v12h-2zM2537.5 783.1h1v2.9h-1zM2526.9 842.7h4v13.2h-4zM2558.9 877h1v9.8h-1zM2562.7 820.5h1v19h-1zM2514.1 829h1v2.8h-1zM2571.6 847.5h1v14h-1zM2533.5 913.1h1v19.5h-1zM2512.1 853.3h2v18.7h-2zM2562.2 905.1h1v14.9h-1zM2583 858.2h4v4.4h-4zM2537.1 891.1h4v18.8h-4zM2536.8 837h1v9h-1zM2519.3 895.9h2v16.7h-2zM2537.9 904.7h1v4.7h-1zM2531.8 768.3h2v3.3h-2zM2504.4 848.7h1v13.6h-1zM2537.1 848.7h1v17.7h-1zM2559.6 892.9h1v5h-1zM2558.9 877.3h2v4.5h-2zM2527.2 763.1h4v9.6h-4zM2527.6 860.4h4v9.7h-4zM2577.3 870.6h2v14.1h-2zM2545.7 854.1h1v8.2h-1zM2533.5 847.9h1v9.2h-1zM2561.2 769.3h1v6.4h-1zM2541.5 878.8h2v7.5h-2zM2509 828.4h2v13.9h-2zM2506.8 843h2v4.2h-2zM2522.5 857.5h1v21.3h-1zM2547.5 794.3h2v17.9h-2zM2521.2 890.8h2v12.7h-2zM2506.7 881.1h1v18.2h-1zM2526 817.1h4v7.5h-4zM2511.5 775.6h2v12.2h-2zM2552.2 793.7h1v18.1h-1zM2582.6 810h1v3.4h-1zM2543.1 779h2v21.4h-2zM2576 855.7h1v8.8h-1zM2519.7 821.6h1v17.2h-1zM2510.4 900h1v10.8h-1zM2520.3 869.3h1v17.5h-1zM2520.6 877.5h1v17h-1zM2581.5 903.5h4v14.3h-4zM2505.5 813.9h2v2.3h-2zM2574.6 872.2h4v12.8h-4zM2549.7 857.2h2v14.6h-2zM2585 806.3h1v16.8h-1zM2560.6 824.5h1v18.1h-1zM2541.3 774h1v19.2h-1zM2533.9 897.9h2v21.8h-2zM2578.5 883.7h2v19.9h-2zM2583.8 892.4h2v13.3h-2zM2545.6 791h1v15.1h-1zM2580.6 788.4h1v20.9h-1zM2584.1 827h4v16.5h-4z" fill="#ffffff"/>
<path d="M2582.4 926.3h2v3.6h-2zM2570.4 900.9h2v8.4h-2zM2571.6 923.2h1v7.6h-1zM2572.9 926.1h2v13h-2zM2638.6 905.5h2v12.6h-2zM2608.5 916.8h1v2.1h-1zM2585.9 906.1h1v3.2h-1zM2640.1 928.1h2v7.5h-2zM2616.6 916.6h3v13h-3zM2630.8 914.2h3v2.6h-3zM2607.3 907.8h3v12.3h-3zM2649.2 919.6h2v10.3h-2zM2607.4 898.2h2v9.2h-2zM2574.5 901.8h1v2.1h-1zM2615 920.7h1v9.6h-1zM2629.2 894.3h1v12.9h-1zM2585.5 893h2v2.6h-2zM2588.8 927.6h1v11.3h-1zM2573 913.6h2v13h-2zM2590.6 898.6h1v7.7h-1zM2646.5 921.2h3v3.2h-3zM2581 912.6h2v8.1h-2zM2577.9 922.2h2v13h-2zM2569.6 924.6h2v9.8h-2zM2576.3 913.8h2v9.1h-2zM2633.8 895.8h1v9.9h-1zM2619 910h3v2.1h-3zM2629.4 893.8h2v11.7h-2zM2606.3 897.5h3v10.8h-3zM2623.5 929.6h2v13.7h-2zM2613.4 906.1h1v3.1h-1zM2588.7 925.8h1v3.1h-1zM2591.5 904.4h1v3.8h-1zM2618.3 929.4h1v2.1h-1zM2575.5 897.2h3v11.2h-3zM2586.6 907.3h2v13.1h-2zM2615.7 900.8h3v11h-3zM2575.8 893.7h1v10.6h-1zM2571.9 918.3h2v11.6h-2zM2573.8 916h1v7.3h-1zM2626.3 902.3h1v12.2h-1zM2571.7 907.2h1v7.3h-1zM2648.5 917.3h2v11.1h-2zM2636.8 930h1v5.3h-1zM2589.5 908.3h1v6.1h-1zM2613.2 906.2h1v2h-1zM2631.5 901.8h1v11.5h-1zM2612.3 896.8h1v7.1h-1z" fill="#ffb6c1"/>
<path d="M2461.7 907.3h1v13.6h-1zM2453.5 926.8h3v10h-3zM2457.4 943h2v10.3h-2zM2491 908.3h1v4.6h-1zM2481.1 941.7h3v5.1h-3zM2479.3 946.1h1v9.3h-1zM2474.6 911.5h3v5.4h-3zM2464.2 918.9h1v3.1h-1zM2486.3 931.4h2v13.6h-2zM2475.9 929.3h3v2.8h-3zM2449.1 921h1v2.8h-1zM2449.1 905.2h1v2.9h-1zM2471.9 934.9h3v13.6h-3zM2478 916h2v4.1h-2zM2450.6 917.3h2v10.4h-2zM2454 946h1v12.3h-1zM2467.4 918.1h1v2.4h-1zM2484.6 914.1h1v11.6h-1zM2477.2 916.2h1v12.1h-1zM2449.3 908.3h3v9.9h-3zM2460.5 915.6h1v3.7h-1zM2450.5 945.8h2v5h-2zM2450.1 929h1v2.8h-1zM2446.7 940.3h1v13.2h-1zM2462.5 927.3h1v3.7h-1zM2482.7 915.1h1v4h-1zM2476.9 941.1h1v5.4h-1zM2463.7 936.6h1v9.8h-1zM2487.3 936.5h1v4.9h-1zM2487.6 915.6h1v2.6h-1z" fill="#ffb6c1"/>
<path d="M2263.3 944.6h1v5.4h-1zM2201.9 935.7h1v7.5h-1zM2278.7 925.6h1v7.8h-1zM2346.7 946.5h2v7.3h-2zM2088 924.9h1v7.3h-1zM2126.8 931.9h1v2.9h-1zM2121.5 942.3h2v9.3h-2zM2371.4 947h2v3.3h-2zM2353.3 936.6h1v8.3h-1zM2214.1 931.3h1v3h-1zM2135.3 946.9h2v11.4h-2zM2092.3 943.9h3v5.8h-3zM2116 940.2h1v2.8h-1zM2276.1 935.4h1v4.2h-1zM2053.5 939.9h2v12.8h-2zM2256.9 940.8h1v8.4h-1zM2125.2 936h2v3.7h-2zM2167.2 933.1h1v10.9h-1zM2325.6 932.6h3v4.2h-3zM2122.9 938.5h3v3h-3zM2119.7 924.1h2v13.7h-2zM2319.8 931h1v9h-1zM2352 933.5h3v4h-3zM2165.7 935.6h1v7.7h-1zM2214.5 947.5h2v10.1h-2zM2118.2 946.4h1v12h-1zM2114.9 948.8h2v5.3h-2zM2363.4 942.6h1v6.9h-1zM2160.3 940.3h1v8.8h-1zM2297.5 929.3h1v3.9h-1zM2310.9 938.7h2v8.7h-2zM2278.8 926.7h1v8.7h-1zM2138 933.9h1v14h-1zM2093.5 931.4h1v4h-1zM2185.9 925.3h2v11.5h-2zM2131.4 937.8h1v12.3h-1z" fill="#ffb6c1"/>
<path d="M2442.8 913.2h3v6.9h-3zM2375.3 928.2h1v13.6h-1zM2438.8 908.5h1v12.4h-1zM2402.7 919.2h1v11.7h-1zM2420.1 918.8h1v7.4h-1zM2408.7 919.2h3v11.6h-3zM2438.4 929.3h1v7.2h-1zM2415.6 912.8h2v4.2h-2zM2423 912.8h1v6.9h-1zM2442.7 912.9h1v10.4h-1zM2375.7 922.8h1v10.1h-1zM2431 907.1h2v6.1h-2zM2428.1 929.2h1v7.6h-1zM2395.6 929.5h2v3.1h-2zM2443.8 919.5h2v13.5h-2zM2438.5 912.3h3v10.5h-3zM2399.8 918.4h1v3.5h-1zM2388 911.9h1v3.4h-1zM2409.4 927.5h2v7h-2zM2377.2 920.5h1v8.9h-1zM2397.9 923.3h2v5.8h-2zM2431.9 923h3v10.1h-3zM2383.4 915.5h3v11.2h-3zM2433.7 921.8h3v5h-3z" fill="#ffb6c1"/>
<path d="M2862.4 920.3h1v5.1h-1zM2757.9 903.6h1v4.4h-1zM2954.8 923.8h2v2.2h-2zM2971.8 914.7h2v4.9h-2zM2747.7 897.5h1v5.3h-1zM2680.8 903.4h1v2.9h-1zM2745.1 918.4h1v2.1h-1zM2691 925.7h1v2.6h-1zM2770.3 912.3h1v3.2h-1zM2918.1 923.8h1v2.2h-1zM2680.1 900.5h1v2.3h-1zM2668.8 927h1v5.2h-1zM2911.4 906.4h2v2.6h-2zM2867.1 927.5h1v5h-1zM2950.9 909h1v4.9h-1zM2732.3 921.2h2v2.4h-2zM2860.3 901.5h3v3.8h-3zM2818 921.8h2v2.4h-2zM2888 913.7h1v2.1h-1zM2984.9 902.3h3v3.8h-3zM2919.3 911.6h2v4.1h-2zM2909.8 896.3h3v2.1h-3zM2833.9 902.1h3v4.8h-3zM2870.5 924.7h1v5.9h-1zM3007 924.5h1v2.6h-1zM2731.2 920.4h3v4.9h-3zM2993.9 921.2h1v3.6h-1zM2837.6 905.2h2v3.3h-2zM2755.3 905.8h1v2.6h-1zM2984.2 923.9h2v2.1h-2zM2765 920.8h3v4.1h-3zM2780.1 918.6h2v3.2h-2zM2676.9 916.7h2v3.5h-2zM2823.4 903.5h3v4.1h-3zM2811.3 923h3v3.7h-3zM2902.9 912.7h3v5.7h-3zM2871.9 898.7h2v2.4h-2zM2980.9 899.6h2v2.5h-2zM2817.1 915.4h1v4.6h-1zM2955.8 916.8h1v3.7h-1zM2680.7 908.1h1v4.9h-1zM2914 896.3h3v2.5h-3zM2688.2 897.6h1v5.3h-1zM2866.5 908.5h1v2.7h-1zM2924.4 909.1h1v3.4h-1zM2969.6 910.2h2v2.5h-2zM2743.1 919.4h3v5.6h-3zM2819.6 926.4h2v5.2h-2zM2922.2 908.1h1v4.9h-1zM2696.5 901.6h2v2.4h-2zM2941.8 906.3h1v2.1h-1zM2833.9 921.8h3v2.6h-3zM2956.5 905.7h1v4.9h-1zM2954.4 917.5h3v3.7h-3zM2944.7 923.4h2v3.4h-2zM2932.5 903.5h1v5.6h-1zM2991.5 905.9h1v5.3h-1zM2745.4 907.2h1v4.5h-1zM2791.5 904.5h1v2.1h-1zM2892.4 919.9h2v5h-2zM2737.7 925.2h1v6h-1zM2911.2 919.9h1v3h-1zM2885.3 907.7h1v2.5h-1zM2843.4 906.2h1v3.4h-1zM2952.7 922.9h1v5.4h-1zM2992.4 923.7h2v4.6h-2zM2667.2 923.6h2v5.9h-2zM2989.4 910.6h2v5.1h-2zM2962 902.2h1v3.4h-1zM2673 899.1h1v5.6h-1zM2659.2 907.3h2v2.3h-2zM2915.8 901.7h2v4.6h-2zM2761.6 910.8h2v3.2h-2zM2876.8 924.4h2v3.3h-2zM2773.7 922.6h3v5.5h-3zM2855.6 898.7h2v6h-2zM2971.4 897.5h2v3.7h-2zM2965.8 917h1v2.8h-1zM2844.7 925.5h3v4.8h-3zM2694.8 925.1h1v3.8h-1zM2854.2 896h1v3.7h-1zM2683.1 912.3h2v5.2h-2zM2777.9 902.5h3v4.4h-3zM2670.7 907.2h3v3.7h-3zM2786.5 918.4h2v2.8h-2zM2758.2 906h3v5.9h-3zM2826.2 919.8h1v4.7h-1zM2701.4 926.4h2v5.6h-2zM2708.8 895.8h3v4.2h-3zM2922.4 923.6h1v2.2h-1zM2669.9 911.7h2v5.4h-2zM2906.2 918.5h1v4h-1zM2984.5 913.5h1v2.6h-1zM2807.2 896.2h1v4.4h-1zM2743 904.2h2v2.9h-2zM2875.4 897h1v5.2h-1zM2974 900.6h1v4.2h-1zM2733.2 922.1h1v4.4h-1zM2974.3 901.8h2v4.9h-2zM2689.4 910.3h2v4.8h-2zM2747.8 922.6h2v2.2h-2zM2988.7 909.7h1v5.5h-1zM2972 913.5h2v2.6h-2zM2815 916.1h2v3.3h-2zM2925 903.2h1v2.9h-1zM2961.8 906.9h2v3.2h-2zM2708.1 902.4h1v2.6h-1zM2861.5 899.3h1v2.7h-1zM2822.1 909.6h2v3.9h-2zM2988.9 910.6h1v3.9h-1zM2832.6 911.6h1v2.3h-1zM2901.6 926.8h2v2.4h-2zM2913.3 906.2h3v4.8h-3zM2790.6 900.2h2v4.2h-2zM2664.9 920.8h2v3.4h-2zM2876 925.3h2v5.8h-2zM2872.3 900.4h3v4.7h-3zM2913.7 926.2h1v4.5h-1zM2893.1 908.3h1v4.4h-1zM2892.9 906.3h1v4.2h-1zM2794.4 901.2h1v2.5h-1zM2974.4 927.1h2v3.3h-2zM2822 911.4h1v4.1h-1zM2657.1 913.2h1v4.6h-1zM2821.1 906.1h2v4.4h-2zM2852.8 923.2h1v3.5h-1zM2789.1 907.1h3v4.2h-3zM2748.9 906.1h2v2.6h-2zM2897.5 896h1v2.8h-1zM2914.3 899.8h1v2.9h-1zM2670.7 903.9h3v5.9h-3zM2975.3 898.7h1v4.2h-1zM2980.7 898.2h1v3.7h-1zM2719.2 919.6h3v3.5h-3zM2683.4 923.7h1v4.4h-1zM3000.4 896.5h1v2.6h-1zM2664 905.9h3v4.5h-3zM2690.3 900.5h1v2.8h-1zM2778.4 925.9h1v3.4h-1zM3001.2 909.4h2v3.6h-2zM2810 911h1v6h-1zM2903.2 901h1v5.6h-1zM2934.7 915.7h3v2.2h-3zM2840.2 917.4h1v5.1h-1zM2846.3 924.1h1v3.8h-1zM2966.1 914.8h1v4.6h-1zM2833.4 900.1h1v5.7h-1zM2851.2 899.9h1v4.8h-1zM2706.2 916.3h2v5.2h-2zM2931.9 912h1v5.4h-1zM2779.8 918.3h1v4.3h-1zM2911.3 908.6h2v5.8h-2zM2983.2 915.3h1v5.6h-1zM2718.5 927.6h1v5.2h-1zM2932.7 922h2v4.8h-2zM2764.2 920h1v5.2h-1zM2770.8 914h2v4h-2zM2748.7 925.3h1v4h-1zM2947.2 896.8h2v5h-2zM2855.7 924.8h2v4h-2z" fill="#ffffff"/>
<path d="M2699.3 893.1h2v11.3h-2zM2657.2 902.6h1v9.3h-1zM2680.4 923.8h1v3h-1zM2681.4 905.8h1v7.9h-1zM2700.4 900.4h3v5.1h-3zM2704.6 900.1h2v13.3h-2zM2719.7 907.8h2v10.3h-2zM2695.2 902.6h3v12.4h-3zM2678 926.1h2v13.5h-2zM2653.2 922.1h3v5.5h-3zM2692.1 923.1h3v10.9h-3zM2659.2 915.2h2v12.3h-2zM2668.1 910.6h2v7.7h-2zM2656.1 922.7h1v4.6h-1zM2692 923.5h1v10.7h-1zM2674 925.5h1v13.5h-1zM2695.1 919.4h3v4.2h-3zM2684.9 904.7h1v12.9h-1z" fill="#ffb6c1"/>
<path d="M2800.2 923.5h1v5h-1zM2904.6 904.3h2v5.6h-2zM2916.9 899.5h2v8.4h-2zM2895.9 911h1v7h-1zM2837.6 907h1v10.9h-1zM2801.6 911.6h2v13.5h-2zM2906.2 902.4h3v3.4h-3zM2814.6 924.5h1v12.8h-1zM2837.6 925.8h2v6.4h-2zM2850.3 920.6h2v5.9h-2zM2818.4 900.5h2v13.5h-2zM2915.1 901.8h2v5.4h-2zM2816.5 915.1h1v5.8h-1zM2770.8 903.8h1v13.5h-1zM2835.4 908.8h3v10.3h-3zM2839.2 925.7h1v8.5h-1zM2897 917.9h1v4.3h-1zM2795.3 906.5h3v4.9h-3z" fill="#ffb6c1"/>
<path d="M3110.7 879.5h1v4.5h-1zM3093.9 883.1h3v3.4h-3zM3108.1 884.4h3v5.4h-3zM3094.4 880.5h2v10.6h-2z" fill="#ffb6c1"/>
<path d="M3262.2 901.9h2v3.1h-2zM3328.4 935.4h3v2.1h-3zM3360.6 935.6h2v8.4h-2zM3304.7 922.6h1v12.9h-1zM3315.1 908.2h1v5.2h-1zM3471 920.3h1v10.1h-1zM3353.1 939.2h1v2.8h-1zM3459.1 938.8h1v12h-1zM3473.8 920.3h2v6.4h-2zM3419 937.7h1v13.9h-1zM3409.9 925.8h1v6.5h-1zM3348.6 905.2h1v5.1h-1zM3295.5 906.2h1v3.3h-1zM3451.1 904.8h1v8h-1zM3398.3 922.1h2v7.6h-2zM3440 928.7h1v7.1h-1zM3318 929.9h1v12.7h-1zM3346.7 930.5h2v9.1h-2zM3363.8 918.8h1v4.7h-1zM3421 933h2v13.9h-2zM3318.5 901.4h1v4.4h-1zM3323.5 930.6h1v6.1h-1zM3280.5 929.8h1v8.1h-1zM3484.3 909.6h1v4.1h-1zM3364.4 936.8h1v10.5h-1zM3363.7 906.5h1v8h-1zM3497 929h3v3.9h-3zM3410.3 902.2h2v2.5h-2zM3273.2 920.5h3v10.6h-3zM3383.1 906.6h3v4.5h-3zM3323.3 917.9h1v12.8h-1zM3262.6 908.7h2v3.2h-2zM3358.7 921.1h1v13.9h-1zM3341.4 910.4h3v6h-3zM3270.8 916.4h2v2.8h-2zM3282 902.2h1v13.9h-1zM3480.4 903.9h2v10.2h-2zM3321.9 903.8h2v8.8h-2zM3368.2 902.4h2v11.8h-2zM3374.3 905.5h2v7.2h-2zM3418.6 900.9h1v8.9h-1zM3493.7 901.7h3v11.5h-3zM3279.6 931.7h1v2.6h-1zM3400.3 928.5h1v4h-1zM3459 916h1v3.9h-1zM3365.8 907h1v3.1h-1zM3434.3 934.1h3v12.9h-3zM3418.4 910.2h1v3.4h-1zM3352.2 926.5h1v3.8h-1zM3469.5 903.2h1v14h-1zM3337.4 935.9h2v12.4h-2zM3401.6 938.3h3v11.4h-3zM3461.2 921h1v8.2h-1zM3376.5 913.3h1v6.3h-1zM3394.6 939.1h2v5.3h-2zM3381.3 919.9h2v7.2h-2zM3403.8 901.6h1v5.3h-1zM3444.7 927.8h1v8.2h-1zM3320.9 936.6h2v8.5h-2zM3391.1 911.5h3v2.4h-3zM3322.8 912.6h3v4.6h-3zM3369.2 914.1h1v7.5h-1zM3282.3 914.2h3v4.5h-3zM3317.3 931h3v10.8h-3zM3322.6 914.4h1v5.3h-1zM3276.3 914.2h1v7.2h-1zM3406.3 935.1h1v11.7h-1zM3316.3 913.2h1v10.6h-1zM3436.9 907.3h1v6.4h-1zM3325.9 919.2h3v3.6h-3zM3342.3 916.5h2v5.5h-2zM3298.7 906h3v4.2h-3z" fill="#ffb6c1"/>
<path d="M3505 908h3v12.2h-3zM3531.7 929.3h1v7.1h-1zM3510.3 926.4h1v8.1h-1zM3497.9 907.7h2v6.8h-2zM3572.3 907.1h1v6.7h-1zM3509.3 926.7h3v6.5h-3zM3597.8 910h3v2.4h-3zM3590.9 905.3h2v10.1h-2zM3574.7 908.5h1v10.5h-1zM3611.2 906.5h2v9h-2zM3569.1 909.6h1v8.9h-1zM3560.1 929.3h1v8.1h-1zM3499.6 905.5h1v13.9h-1zM3621.4 898.2h1v3.4h-1zM3632.4 906.5h2v4.9h-2zM3571 911.6h1v8.2h-1zM3565.3 908.9h2v11.3h-2zM3554.4 934.4h1v10h-1zM3551.8 919.9h1v11.3h-1zM3610.2 918h2v3.9h-2zM3627.7 934.1h3v7.3h-3zM3633.4 901h2v12.5h-2zM3587.3 900.1h1v4.2h-1zM3481.5 912.9h2v5.5h-2zM3588.7 916.8h3v4h-3zM3559.2 916h1v5.5h-1zM3563.9 905.8h2v6.3h-2zM3532.3 920.5h2v5.3h-2zM3597.8 920.6h3v6.4h-3zM3498.3 922h2v9.7h-2z" fill="#ffb6c1"/>
<path d="M3578.2 916.6h1v4.7h-1zM3596.5 932.4h1v3.8h-1zM3569.5 934.8h1v7.3h-1zM3598.4 901.6h1v3.4h-1zM3615.2 888.1h1v8.5h-1zM3573.1 900h1v7.5h-1zM3613.3 906.7h2v8.4h-2zM3604.6 882.7h1v7.6h-1zM3586.1 915h1v7.6h-1zM3619.5 915.8h1v4.3h-1zM3604.1 919h3v6.9h-3zM3578 896.2h3v3.6h-3zM3632.7 923h2v8.7h-2zM3613.1 920.5h1v6.5h-1zM3618.4 899.3h2v6.4h-2zM3580 882.3h1v2.6h-1zM3610 912h3v9.8h-3zM3616.7 893.9h1v3.4h-1zM3623.2 908.1h1v6.9h-1zM3584.2 883.8h3v5.6h-3zM3584.8 889.1h1v9.2h-1zM3591.4 880.4h1v5h-1zM3628.6 880.2h3v3h-3zM3579.7 895.3h1v4.4h-1zM3617.2 883.8h1v9.9h-1zM3598 923.4h1v6.4h-1zM3569.6 882.2h1v3.8h-1zM3575.2 930.7h2v5.9h-2zM3608.4 928.3h2v7.6h-2zM3599.5 922.9h2v8.6h-2zM3630.5 891.3h1v8h-1zM3623.5 892.8h3v4.4h-3zM3572.2 884.3h2v9.6h-2zM3593.3 907.4h2v5.9h-2zM3610 921.8h3v4.9h-3zM3582.9 898.4h3v9.3h-3zM3630.1 887.7h1v5.4h-1zM3581.3 933.2h1v8.3h-1zM3582.2 919.3h1v6.6h-1zM3628 893.7h1v7.1h-1zM3600.7 900h2v8.7h-2zM3589.8 924.1h1v4h-1zM3623.4 909.8h2v6.5h-2zM3627.8 918.1h1v4.3h-1zM3625.5 922.9h3v5.5h-3zM3599.7 925.6h3v9.6h-3zM3581.6 884.6h2v3.4h-2zM3627.7 896.7h3v8.9h-3zM3594.6 887.3h1v7.8h-1zM3624.1 888h2v6.3h-2zM3597.9 907.1h1v2.1h-1zM3629.9 890.1h1v9.1h-1zM3611.4 884.6h2v3.7h-2zM3620.2 896.1h3v6.8h-3zM3630.5 888.6h1v5h-1zM3600.6 882.6h3v3.3h-3zM3589.3 893.1h3v8.4h-3zM3573.2 910.9h1v3.6h-1zM3582.7 893.2h1v4.1h-1zM3581.1 879h2v3.8h-2z" fill="#00ffff"/>
<path d="M3592.7 902.4h2v2.9h-2zM3591.6 869.9h1v8h-1zM3604.9 887.9h1v10h-1zM3590.7 871h2v5.3h-2zM3632.8 884.3h1v5.3h-1zM3614.6 899.7h4v5.5h-4zM3604 898.3h2v4.2h-2zM3626.8 903.4h2v3.7h-2zM3581.4 877.7h2v9.2h-2zM3636.5 888.6h1v2.6h-1zM3600.1 902.4h1v2.1h-1zM3615.1 893.2h1v5.8h-1zM3586.2 880.8h4v7.1h-4zM3632.9 874.9h2v7.3h-2zM3616.9 870.4h2v7.8h-2zM3608.8 878.3h1v3h-1zM3617.6 880.3h1v4.4h-1zM3610.4 899.7h1v2.7h-1zM3616 906.7h1v2.2h-1zM3620.7 883.4h1v6.9h-1zM3615.6 897.2h1v2.9h-1zM3605.6 887.8h2v5.1h-2zM3603.9 878.1h1v4.6h-1zM3616.2 900.7h2v6.2h-2zM3611 900.7h2v2.3h-2zM3604.7 902.2h1v3.2h-1zM3601.3 892.3h1v3.2h-1zM3608.8 885.5h1v9.2h-1zM3592.4 890.5h2v2.7h-2zM3614.3 894.4h1v9.3h-1zM3604.2 898.1h1v9.4h-1zM3584.9 880.9h4v8.5h-4zM3625.8 883.2h2v2.7h-2zM3580.1 888.4h4v2.7h-4zM3583.8 876.9h2v2.6h-2zM3595.4 905.7h2v4h-2zM3592.6 900.9h1v6.5h-1zM3635.4 889.9h4v5.3h-4zM3613.4 901.8h1v5.4h-1zM3611.9 877.6h4v8.9h-4zM3618 880.4h2v5.5h-2zM3595 891.5h1v6.4h-1zM3615.7 888.6h1v8.4h-1zM3607.4 878.2h1v4.5h-1zM3627 880.5h1v5h-1zM3602.6 902.9h1v6.8h-1zM3613.4 878.6h2v9.5h-2zM3593.5 900h2v8.4h-2zM3586.4 890h1v8.5h-1zM3611.1 872.6h4v3.4h-4zM3593.7 892.6h1v5.2h-1zM3588.7 893.9h1v7.3h-1zM3584.7 887.4h4v6.2h-4zM3603 903h2v5.1h-2zM3603.3 883.6h4v6.5h-4zM3635.4 880.3h4v6.6h-4zM3608.6 876.6h1v9.7h-1zM3623.8 906.6h2v2.3h-2zM3583.3 895.1h1v7.7h-1zM3633.2 900.7h1v9.1h-1zM3605.3 882h2v4.9h-2zM3625.1 901h2v7.4h-2zM3588.5 875.4h2v6.2h-2zM3606.4 901.9h2v3.2h-2zM3620.3 878h1v9.8h-1zM3595.4 872.7h1v5.2h-1zM3579.3 885.9h2v5.7h-2zM3604.2 893.2h1v2.8h-1zM3633.6 884.7h1v2.2h-1zM3584.4 896.1h2v7.3h-2zM3583.8 886.3h1v9.8h-1zM3600.2 906.5h1v8.1h-1zM3613 893.1h2v8.5h-2zM3619.1 890.1h2v3.2h-2zM3610 879.5h2v3.3h-2zM3583.8 906.3h4v7h-4zM3613.5 904h1v6.5h-1zM3597.6 904.2h1v6.1h-1zM3580.8 879.1h4v9.5h-4zM3616.2 894.3h2v8.2h-2z" fill="#ffffff"/>
<path d="M3408.9 863h2v3.9h-2zM3389.3 866.3h1v3.5h-1zM3422.7 872h1v3.3h-1zM3395.1 867.3h1v7.7h-1zM3441 862.7h1v5.8h-1zM3393 873.7h1v4.7h-1zM3386.8 854h2v6.5h-2zM3412.3 855.1h1v7.1h-1zM3428.3 865.6h1v4h-1zM3419.6 862h1v5.9h-1zM3412.3 860.1h2v6.7h-2zM3408 858h1v2.2h-1zM3432 871.2h2v6.2h-2zM3439.2 870.9h2v4.3h-2zM3401.3 873.4h4v3.6h-4zM3419.1 854.7h2v5.2h-2zM3389 855.4h4v2.6h-4zM3425.5 870.1h2v2.1h-2zM3425.5 863.2h1v2.3h-1zM3434.1 867.3h1v6h-1zM3383.1 863.3h1v4.1h-1zM3410.2 855.5h4v6.6h-4zM3418.8 860.3h2v3.4h-2zM3431 861.7h2v6.8h-2zM3421.3 862.3h2v5.8h-2z" fill="#00ffff"/>
</g>
<g clip-path="url(#ax)">
<path d="M376.9 907L359.6 936.6L394.2 936.6ZM517.9 729.5L500.6 759.1L535.2 759.1ZM542.3 743.5L525 773.1L559.6 773.1ZM588.9 744.7L571.6 774.3L606.2 774.3ZM612.2 746.3L594.9 775.9L629.5 775.9ZM636.6 750.9L619.3 780.5L653.9 780.5ZM658.8 759.8L641.5 789.4L676.1 789.4ZM707.2 774.2L689.9 803.8L724.5 803.8ZM1852.3 854.1L1835 883.7L1869.6 883.7ZM1992.7 844.8L1975.4 874.4L2010 874.4ZM1806.4 900.7L1789.1 930.3L1823.7 930.3ZM1831.3 900.7L1814 930.3L1848.6 930.3ZM1876.2 915.9L1858.9 945.5L1893.5 945.5ZM1899.5 918.2L1882.2 947.8L1916.8 947.8ZM1922.8 916.6L1905.5 946.2L1940.1 946.2ZM1946.1 917.5L1928.8 947.1L1963.4 947.1ZM1970.6 916.3L1953.3 945.9L1987.9 945.9ZM2017.2 911.7L1999.9 941.3L2034.5 941.3ZM2041.6 913.5L2024.3 943.1L2058.9 943.1ZM2299.2 823.4L2281.9 853L2316.5 853ZM2329.5 823.4L2312.2 853L2346.8 853ZM2352.8 836.2L2335.5 865.8L2370.1 865.8ZM2399.4 808L2382.1 837.6L2416.7 837.6ZM2423.8 846L2406.5 875.6L2441.1 875.6ZM2494.9 872.8L2477.6 902.4L2512.2 902.4ZM2565.9 793.6L2548.6 823.2L2583.2 823.2ZM2519.3 919.3L2502 948.9L2536.6 948.9ZM2541.5 919.3L2524.2 948.9L2558.8 948.9ZM2683.1 918.2L2665.8 947.8L2700.4 947.8ZM3037.8 913.5L3020.5 943.1L3055.1 943.1ZM3062.3 913.5L3045 943.1L3079.6 943.1ZM3157.8 917L3140.5 946.6L3175.1 946.6ZM3181.1 917L3163.8 946.6L3198.4 946.6ZM3205.5 917L3188.2 946.6L3222.8 946.6ZM3230 917L3212.7 946.6L3247.3 946.6ZM3158.2 917L3140.9 946.6L3175.5 946.6ZM3180.3 917L3163 946.6L3197.6 946.6ZM3204.7 917L3187.4 946.6L3222 946.6ZM3229.2 917L3211.9 946.6L3246.5 946.6ZM3322.4 915.9L3305.1 945.5L3339.7 945.5ZM3346.8 916.6L3329.5 946.2L3364.1 946.2ZM3371.3 916.6L3354 946.2L3388.6 946.2ZM3393.4 916.6L3376.1 946.2L3410.7 946.2ZM3417.9 916.6L3400.6 946.2L3435.2 946.2ZM3443 915.9L3425.7 945.5L3460.3 945.5ZM3465.6 873.9L3448.3 903.5L3482.9 903.5ZM3490.1 876.3L3472.8 905.9L3507.4 905.9ZM3535.5 915.9L3518.2 945.5L3552.8 945.5ZM3559.9 915.9L3542.6 945.5L3577.2 945.5ZM3465.6 916.6L3448.3 946.2L3482.9 946.2ZM307 929.5L289.7 959.1L324.3 959.1ZM330.5 929.5L313.2 959.1L347.8 959.1ZM353.9 929.5L336.6 959.1L371.2 959.1ZM400.8 929.5L383.5 959.1L418.1 959.1ZM424.2 929.5L406.9 959.1L441.5 959.1ZM447.7 929.5L430.4 959.1L465 959.1ZM471.1 929.5L453.8 959.1L488.4 959.1ZM494.6 929.5L477.3 959.1L511.9 959.1ZM518 929.5L500.7 959.1L535.3 959.1ZM541.4 929.5L524.1 959.1L558.7 959.1ZM564.9 929.5L547.6 959.1L582.2 959.1ZM588.3 929.5L571 959.1L605.6 959.1ZM611.8 929.5L594.5 959.1L629.1 959.1ZM635.2 929.5L617.9 959.1L652.5 959.1ZM658.6 929.5L641.3 959.1L675.9 959.1ZM682.1 929.5L664.8 959.1L699.4 959.1ZM705.5 929.5L688.2 959.1L722.8 959.1ZM729 929.5L711.7 959.1L746.3 959.1ZM752.4 929.5L735.1 959.1L769.7 959.1ZM775.8 929.5L758.5 959.1L793.1 959.1ZM799.3 929.5L782 959.1L816.6 959.1ZM822.7 929.5L805.4 959.1L840 959.1ZM846.2 929.5L828.9 959.1L863.5 959.1ZM869.6 929.5L852.3 959.1L886.9 959.1ZM893 929.5L875.7 959.1L910.3 959.1ZM916.5 929.5L899.2 959.1L933.8 959.1ZM939.9 929.5L922.6 959.1L957.2 959.1ZM963.4 929.5L946.1 959.1L980.7 959.1ZM986.8 929.5L969.5 959.1L1004.1 959.1ZM1010.2 929.5L992.9 959.1L1027.5 959.1ZM1033.7 929.5L1016.4 959.1L1051 959.1ZM1057.1 929.5L1039.8 959.1L1074.4 959.1ZM1080.6 929.5L1063.3 959.1L1097.9 959.1ZM1104 929.5L1086.7 959.1L1121.3 959.1ZM1127.4 929.5L1110.1 959.1L1144.7 959.1ZM1150.9 929.5L1133.6 959.1L1168.2 959.1ZM1174.3 929.5L1157 959.1L1191.6 959.1ZM1197.8 929.5L1180.5 959.1L1215.1 959.1ZM1221.2 929.5L1203.9 959.1L1238.5 959.1ZM1244.6 929.5L1227.3 959.1L1261.9 959.1ZM1268.1 929.5L1250.8 959.1L1285.4 959.1ZM1291.5 929.5L1274.2 959.1L1308.8 959.1ZM1315 929.5L1297.7 959.1L1332.3 959.1ZM1338.4 929.5L1321.1 959.1L1355.7 959.1ZM1361.8 929.5L1344.5 959.1L1379.1 959.1ZM1385.3 929.5L1368 959.1L1402.6 959.1ZM1408.7 929.5L1391.4 959.1L1426 959.1ZM1432.2 929.5L1414.9 959.1L1449.5 959.1ZM1455.6 929.5L1438.3 959.1L1472.9 959.1ZM1479 929.5L1461.7 959.1L1496.3 959.1ZM1502.5 929.5L1485.2 959.1L1519.8 959.1ZM1525.9 929.5L1508.6 959.1L1543.2 959.1ZM1549.4 929.5L1532.1 959.1L1566.7 959.1ZM1572.8 929.5L1555.5 959.1L1590.1 959.1ZM1596.2 929.5L1578.9 959.1L1613.5 959.1ZM1619.7 929.5L1602.4 959.1L1637 959.1ZM1643.1 929.5L1625.8 959.1L1660.4 959.1ZM1666.6 929.5L1649.3 959.1L1683.9 959.1ZM1690 929.5L1672.7 959.1L1707.3 959.1ZM1713.4 929.5L1696.1 959.1L1730.7 959.1ZM1736.9 929.5L1719.6 959.1L1754.2 959.1ZM1760.3 929.5L1743 959.1L1777.6 959.1ZM1783.8 929.5L1766.5 959.1L1801.1 959.1ZM2065 929.5L2047.7 959.1L2082.3 959.1ZM2088.5 929.5L2071.2 959.1L2105.8 959.1ZM2111.9 929.5L2094.6 959.1L2129.2 959.1ZM2135.4 929.5L2118.1 959.1L2152.7 959.1ZM2158.8 929.5L2141.5 959.1L2176.1 959.1ZM2182.2 929.5L2164.9 959.1L2199.5 959.1ZM2205.7 929.5L2188.4 959.1L2223 959.1ZM2229.1 929.5L2211.8 959.1L2246.4 959.1ZM2252.6 929.5L2235.3 959.1L2269.9 959.1ZM2276 929.5L2258.7 959.1L2293.3 959.1Z" fill="#ff0000"/>
<path d="M305.4 764.7L288.1 735.1L322.7 735.1ZM329.9 810.6L312.6 781L347.2 781ZM354.1 817.6L336.8 788L371.4 788ZM376.9 821.8L359.6 792.2L394.2 792.2ZM401.4 821.1L384.1 791.5L418.7 791.5ZM426.3 829.9L409 800.3L443.6 800.3ZM448.4 836.7L431.1 807.1L465.7 807.1ZM472.9 838.5L455.6 808.9L490.2 808.9ZM496.9 837.6L479.6 808L514.2 808ZM517.9 746.5L500.6 716.9L535.2 716.9ZM542.3 746.5L525 716.9L559.6 716.9ZM566.8 730.9L549.5 701.3L584.1 701.3ZM588.9 720.9L571.6 691.3L606.2 691.3ZM612.2 720.9L594.9 691.3L629.5 691.3ZM636.6 712.8L619.3 683.2L653.9 683.2ZM658.8 712.1L641.5 682.5L676.1 682.5ZM683.2 710.4L665.9 680.8L700.5 680.8ZM706.5 722.8L689.2 693.2L723.8 693.2ZM729.8 722.1L712.5 692.5L747.1 692.5ZM754.3 715.8L737 686.2L771.6 686.2ZM778.7 715.1L761.4 685.5L796 685.5ZM799.7 713.9L782.4 684.3L817 684.3ZM824.1 707.6L806.8 678L841.4 678ZM846.3 708.1L829 678.5L863.6 678.5ZM869.8 706.9L852.5 677.3L887.1 677.3ZM893.8 706.9L876.5 677.3L911.1 677.3ZM917.5 706.9L900.2 677.3L934.8 677.3ZM939.7 706.9L922.4 677.3L957 677.3ZM964.1 709.3L946.8 679.7L981.4 679.7ZM988.6 709.3L971.3 679.7L1005.9 679.7ZM1010.7 707.6L993.4 678L1028 678ZM1034 707.6L1016.7 678L1051.3 678ZM1058.5 710L1041.2 680.4L1075.8 680.4ZM1082.9 710L1065.6 680.4L1100.2 680.4ZM1105 708.6L1087.7 679L1122.3 679ZM1128.3 708.6L1111 679L1145.6 679ZM1150.5 708.6L1133.2 679L1167.8 679ZM1174.9 708.6L1157.6 679L1192.2 679ZM1199.4 708.6L1182.1 679L1216.7 679ZM1221.5 707.6L1204.2 678L1238.8 678ZM1244.8 707.6L1227.5 678L1262.1 678ZM1269.3 712.8L1252 683.2L1286.6 683.2ZM1291.4 712.8L1274.1 683.2L1308.7 683.2ZM1315.8 717.4L1298.5 687.8L1333.1 687.8ZM1340.3 720.9L1323 691.3L1357.6 691.3ZM1362.4 724.4L1345.1 694.8L1379.7 694.8ZM1386.9 720.5L1369.6 690.9L1404.2 690.9ZM1411.3 720.5L1394 690.9L1428.6 690.9ZM1434.6 718.6L1417.3 689L1451.9 689ZM1457 715.6L1439.7 686L1474.3 686ZM1480.3 718.6L1463 689L1497.6 689ZM1502.4 724.4L1485.1 694.8L1519.7 694.8ZM1526.9 724.4L1509.6 694.8L1544.2 694.8ZM1550.2 719.8L1532.9 690.2L1567.5 690.2ZM1572.3 715.6L1555 686L1589.6 686ZM1596.7 715.6L1579.4 686L1614 686ZM1621.2 715.6L1603.9 686L1638.5 686ZM1644.5 719.8L1627.2 690.2L1661.8 690.2ZM1666.6 724.4L1649.3 694.8L1683.9 694.8ZM1691.1 726.7L1673.8 697.1L1708.4 697.1ZM1712 731.9L1694.7 702.3L1729.3 702.3ZM1736.5 730.2L1719.2 700.6L1753.8 700.6ZM1760.9 730.2L1743.6 700.6L1778.2 700.6ZM1783.1 731.4L1765.8 701.8L1800.4 701.8ZM1806.4 731.9L1789.1 702.3L1823.7 702.3ZM1831.3 776.1L1814 746.5L1848.6 746.5ZM1853 785.4L1835.7 755.8L1870.3 755.8ZM1876.2 779.1L1858.9 749.5L1893.5 749.5ZM1899.5 773.3L1882.2 743.7L1916.8 743.7ZM1922.8 772.2L1905.5 742.6L1940.1 742.6ZM1946.1 773.3L1928.8 743.7L1963.4 743.7ZM1970.6 768.7L1953.3 739.1L1987.9 739.1ZM1992.7 790.8L1975.4 761.2L2010 761.2ZM2017.2 789.6L1999.9 760L2034.5 760ZM2041.6 787.3L2024.3 757.7L2058.9 757.7ZM2061.6 776.1L2044.3 746.5L2078.9 746.5ZM2087.3 775.7L2070 746.1L2104.6 746.1ZM2110.6 774.5L2093.3 744.9L2127.9 744.9ZM2132.7 836.7L2115.4 807.1L2150 807.1ZM2157.1 833.9L2139.8 804.3L2174.4 804.3ZM2180.4 819.9L2163.1 790.3L2197.7 790.3ZM2203.7 809.9L2186.4 780.3L2221 780.3ZM2228.2 810.6L2210.9 781L2245.5 781ZM2252.6 797.8L2235.3 768.2L2269.9 768.2ZM2274.8 787.3L2257.5 757.7L2292.1 757.7ZM2287.6 786.1L2270.3 756.5L2304.9 756.5ZM2308.5 796.6L2291.2 767L2325.8 767ZM2329.5 849L2312.2 819.4L2346.8 819.4ZM2352.8 851.8L2335.5 822.2L2370.1 822.2ZM2399.4 805.5L2382.1 775.9L2416.7 775.9ZM2423.8 798.5L2406.5 768.9L2441.1 768.9ZM2519.3 874.6L2502 845L2536.6 845ZM2494.9 891.6L2477.6 862L2512.2 862ZM2541.5 811.8L2524.2 782.2L2558.8 782.2ZM2565.9 797.8L2548.6 768.2L2583.2 768.2ZM2683.1 890.9L2665.8 861.3L2700.4 861.3ZM3037.8 939.9L3020.5 910.3L3055.1 910.3ZM3062.3 939.9L3045 910.3L3079.6 910.3ZM3157.8 941.5L3140.5 911.9L3175.1 911.9ZM3181.1 941.5L3163.8 911.9L3198.4 911.9ZM3205.5 941L3188.2 911.4L3222.8 911.4ZM3230 941L3212.7 911.4L3247.3 911.4ZM3158.2 941.5L3140.9 911.9L3175.5 911.9ZM3180.3 941.5L3163 911.9L3197.6 911.9ZM3300.2 922.9L3282.9 893.3L3317.5 893.3ZM3322.4 934L3305.1 904.4L3339.7 904.4ZM3346.8 936.4L3329.5 906.8L3364.1 906.8ZM3371.3 931.7L3354 902.1L3388.6 902.1ZM3393.4 927.1L3376.1 897.5L3410.7 897.5ZM3417.9 929.4L3400.6 899.8L3435.2 899.8ZM3443 883.5L3425.7 853.9L3460.3 853.9ZM3466.8 885.8L3449.5 856.2L3484.1 856.2ZM3490.1 892.1L3472.8 862.5L3507.4 862.5ZM3514.5 894L3497.2 864.4L3531.8 864.4ZM3536.6 894L3519.3 864.4L3553.9 864.4ZM3559.9 898.6L3542.6 869L3577.2 869Z" fill="#ff0000"/>
<path d="M517.9 929.5L500.6 959.1L535.2 959.1ZM542.3 929.5L525 959.1L559.6 959.1ZM566.8 929.5L549.5 959.1L584.1 959.1ZM588.9 929.5L571.6 959.1L606.2 959.1ZM612.2 929.5L594.9 959.1L629.5 959.1ZM636.6 929.5L619.3 959.1L653.9 959.1ZM658.8 929.5L641.5 959.1L676.1 959.1ZM707.2 929.5L689.9 959.1L724.5 959.1ZM2299.2 928.2L2281.9 957.8L2316.5 957.8ZM2329.5 924.7L2312.2 954.3L2346.8 954.3ZM2352.8 924.7L2335.5 954.3L2370.1 954.3ZM2399.4 916.6L2382.1 946.2L2416.7 946.2ZM2423.8 923.5L2406.5 953.1L2441.1 953.1ZM2565.9 923.5L2548.6 953.1L2583.2 953.1Z" fill="#ff0000"/>
<path d="M517.9 940.9L510.6 953.4L525.1 953.4ZM542.3 940.9L535 953.4L549.6 953.4ZM566.8 940.9L559.5 953.4L574 953.4ZM588.9 940.9L581.6 953.4L596.2 953.4ZM612.2 940.9L604.9 953.4L619.5 953.4ZM636.6 940.9L629.4 953.4L643.9 953.4ZM658.8 940.9L651.5 953.4L666 953.4ZM707.2 940.9L700 953.4L714.5 953.4ZM2299.2 939.6L2292 952.1L2306.5 952.1ZM2329.5 936.1L2322.2 948.6L2336.8 948.6ZM2352.8 936.1L2345.5 948.6L2360.1 948.6ZM2399.4 928L2392.1 940.4L2406.6 940.4ZM2423.8 935L2416.6 947.4L2431.1 947.4ZM2565.9 935L2558.7 947.4L2573.2 947.4Z" fill="#ffffff"/>
<path d="M517.9 823.9L500.6 794.3L535.2 794.3ZM542.3 828.1L525 798.5L559.6 798.5ZM566.8 830.4L549.5 800.8L584.1 800.8ZM588.9 833.2L571.6 803.6L606.2 803.6ZM612.2 835L594.9 805.4L629.5 805.4ZM636.6 834.3L619.3 804.7L653.9 804.7ZM658.8 838.5L641.5 808.9L676.1 808.9ZM707.2 850.7L689.9 821.1L724.5 821.1ZM2299.2 898.6L2281.9 869L2316.5 869ZM2329.5 896.8L2312.2 867.2L2346.8 867.2ZM2352.8 929.4L2335.5 899.8L2370.1 899.8ZM2423.8 938L2406.5 908.4L2441.1 908.4ZM2565.9 904.9L2548.6 875.3L2583.2 875.3ZM3465.6 945L3448.3 915.4L3482.9 915.4Z" fill="#ff0000"/>
<path d="M517.9 812.4L510.6 800L525.1 800ZM542.3 816.6L535 804.2L549.6 804.2ZM566.8 818.9L559.5 806.5L574 806.5ZM588.9 821.7L581.6 809.3L596.2 809.3ZM612.2 823.6L604.9 811.2L619.5 811.2ZM636.6 822.9L629.4 810.5L643.9 810.5ZM658.8 827.1L651.5 814.7L666 814.7ZM707.2 839.2L700 826.8L714.5 826.8ZM2299.2 887.2L2292 874.8L2306.5 874.8ZM2329.5 885.3L2322.2 872.9L2336.8 872.9ZM2352.8 917.9L2345.5 905.5L2360.1 905.5ZM2423.8 926.6L2416.6 914.1L2431.1 914.1ZM2565.9 893.5L2558.7 881L2573.2 881ZM3465.6 933.5L3458.3 921.1L3472.9 921.1Z" fill="#ffffff"/>
<g fill="#32cd32"><circle cx="498.1" cy="820.7" r="17.0"/><circle cx="2399.4" cy="890.6" r="17.0"/><circle cx="3037.8" cy="925.5" r="17.0"/><circle cx="3062.3" cy="930.2" r="17.0"/><circle cx="3087.2" cy="924.8" r="17.0"/><circle cx="3157.8" cy="927.9" r="17.0"/><circle cx="3181.1" cy="926.7" r="17.0"/><circle cx="3205.5" cy="922" r="17.0"/><circle cx="3230" cy="915" r="17.0"/><circle cx="3158.2" cy="927.9" r="17.0"/><circle cx="3180.3" cy="926.7" r="17.0"/><circle cx="3204.7" cy="922" r="17.0"/><circle cx="3229.2" cy="915" r="17.0"/><circle cx="3252.5" cy="913.9" r="17.0"/><circle cx="3322.4" cy="899.9" r="17.0"/><circle cx="3346.8" cy="894.8" r="17.0"/><circle cx="3371.3" cy="893.6" r="17.0"/><circle cx="3393.4" cy="881.3" r="17.0"/><circle cx="3417.9" cy="887.1" r="17.0"/><circle cx="3442.3" cy="881.3" r="17.0"/><circle cx="3465.6" cy="873.1" r="17.0"/><circle cx="3490.1" cy="868" r="17.0"/><circle cx="3559.9" cy="911.6" r="17.0"/></g>
<g fill="#0000ff"><circle cx="305.4" cy="763.6" r="17.0"/><circle cx="329.9" cy="814.4" r="17.0"/><circle cx="707.7" cy="717.8" r="17.0"/><circle cx="728.6" cy="733.4" r="17.0"/><circle cx="824.1" cy="701.9" r="17.0"/><circle cx="848.6" cy="706.6" r="17.0"/><circle cx="869.8" cy="700.1" r="17.0"/><circle cx="893.8" cy="692.6" r="17.0"/><circle cx="917.5" cy="706.6" r="17.0"/><circle cx="939.7" cy="697.7" r="17.0"/><circle cx="964.1" cy="696.8" r="17.0"/><circle cx="988.6" cy="700.8" r="17.0"/><circle cx="1010.7" cy="706.6" r="17.0"/><circle cx="1034" cy="688" r="17.0"/><circle cx="1058.5" cy="699.6" r="17.0"/><circle cx="1082.9" cy="708.9" r="17.0"/><circle cx="1105" cy="707.7" r="17.0"/><circle cx="1128.3" cy="711.7" r="17.0"/><circle cx="1150.5" cy="714.7" r="17.0"/><circle cx="1174.9" cy="707.7" r="17.0"/><circle cx="1199.4" cy="706.6" r="17.0"/><circle cx="1221.5" cy="713.6" r="17.0"/><circle cx="1244.8" cy="715.9" r="17.0"/><circle cx="1269.3" cy="717.1" r="17.0"/><circle cx="1291.4" cy="716.4" r="17.0"/><circle cx="1315.8" cy="722.9" r="17.0"/><circle cx="1340.3" cy="725.2" r="17.0"/><circle cx="1362.4" cy="717.1" r="17.0"/><circle cx="1386.9" cy="721.7" r="17.0"/><circle cx="1411.3" cy="721" r="17.0"/><circle cx="1434.6" cy="718.2" r="17.0"/><circle cx="1457" cy="710.1" r="17.0"/><circle cx="1480.3" cy="712.4" r="17.0"/><circle cx="1502.4" cy="720.1" r="17.0"/><circle cx="1526.9" cy="710.1" r="17.0"/><circle cx="1550.2" cy="710.1" r="17.0"/><circle cx="1572.3" cy="710.1" r="17.0"/><circle cx="1596.7" cy="701.9" r="17.0"/><circle cx="1621.2" cy="712.4" r="17.0"/><circle cx="1644.5" cy="715.9" r="17.0"/><circle cx="1666.6" cy="711.2" r="17.0"/><circle cx="1691.1" cy="745" r="17.0"/><circle cx="1712" cy="727.5" r="17.0"/><circle cx="1736.5" cy="716.6" r="17.0"/><circle cx="1760.9" cy="714.7" r="17.0"/><circle cx="1783.1" cy="718.7" r="17.0"/><circle cx="1806.4" cy="721" r="17.0"/><circle cx="1853" cy="759" r="17.0"/><circle cx="1876.2" cy="769.5" r="17.0"/><circle cx="2541.5" cy="841.2" r="17.0"/><circle cx="2590.4" cy="746.6" r="17.0"/></g>
<g fill="#808080"><circle cx="353.6" cy="844.7" r="17.0"/><circle cx="378.1" cy="838.2" r="17.0"/><circle cx="401.9" cy="848.2" r="17.0"/><circle cx="425.2" cy="838.2" r="17.0"/><circle cx="448.4" cy="844" r="17.0"/><circle cx="472.9" cy="824.4" r="17.0"/><circle cx="517.9" cy="777.6" r="17.0"/><circle cx="542.3" cy="764.1" r="17.0"/><circle cx="566.8" cy="749.7" r="17.0"/><circle cx="587.7" cy="729.9" r="17.0"/><circle cx="612.2" cy="714" r="17.0"/><circle cx="637.8" cy="708.9" r="17.0"/><circle cx="658.8" cy="724.1" r="17.0"/><circle cx="683.2" cy="700.8" r="17.0"/><circle cx="754.3" cy="734.1" r="17.0"/><circle cx="778.7" cy="723.6" r="17.0"/><circle cx="799.7" cy="711.2" r="17.0"/><circle cx="1831.3" cy="736.9" r="17.0"/><circle cx="1899.5" cy="760.2" r="17.0"/><circle cx="1922.8" cy="756.7" r="17.0"/><circle cx="1946.1" cy="759" r="17.0"/><circle cx="1970.6" cy="752.7" r="17.0"/><circle cx="1992.7" cy="752" r="17.0"/><circle cx="2017.2" cy="803.2" r="17.0"/><circle cx="2041.6" cy="754.3" r="17.0"/><circle cx="2061.6" cy="759" r="17.0"/><circle cx="2087.3" cy="768.3" r="17.0"/><circle cx="2110.6" cy="749.7" r="17.0"/><circle cx="2132.7" cy="739.9" r="17.0"/><circle cx="2157.1" cy="810.2" r="17.0"/><circle cx="2180.4" cy="810.9" r="17.0"/><circle cx="2203.7" cy="821.9" r="17.0"/><circle cx="2228.2" cy="784.6" r="17.0"/><circle cx="2252.6" cy="825.8" r="17.0"/><circle cx="2274.8" cy="774.6" r="17.0"/><circle cx="2306.2" cy="764.8" r="17.0"/><circle cx="2329.5" cy="781.8" r="17.0"/><circle cx="2352.8" cy="889.4" r="17.0"/><circle cx="2378.4" cy="895.7" r="17.0"/><circle cx="2423.8" cy="895.7" r="17.0"/><circle cx="2448.3" cy="896.4" r="17.0"/><circle cx="2494.9" cy="931.4" r="17.0"/><circle cx="2519.3" cy="902.2" r="17.0"/><circle cx="2565.9" cy="831.9" r="17.0"/><circle cx="2613.2" cy="818.4" r="17.0"/><circle cx="2683.1" cy="895.2" r="17.0"/><circle cx="2707.5" cy="908.1" r="17.0"/><circle cx="2873.1" cy="939.5" r="17.0"/><circle cx="2920.2" cy="923.9" r="17.0"/><circle cx="3015.7" cy="945.3" r="17.0"/><circle cx="3300.9" cy="914.6" r="17.0"/><circle cx="3514.5" cy="882.9" r="17.0"/><circle cx="3536.6" cy="878.9" r="17.0"/></g>
</g>
<g fill="none" stroke="#000" stroke-width="4" stroke-linejoin="miter" clip-path="url(#ax)">
<polyline points="264,729.2 850,731 999.1,729.2 1257.6,728 1450,728.7 1558.3,728.7"/>
<polyline points="1671.3,725.2 1799.4,728.2 2050,735 2306.2,742.7 2492.5,749.7 2539.1,749.2 2650,748 2671,740.4 2710.6,734.1 2743.2,732.7 2836.3,733.4 2899.2,735 2952.8,734.5 3011,732.9 3250,725.7 3275.8,724.1 3636.8,720.1"/>
<polyline points="264,802.1 850,805.6 978.1,804.9 1108.5,809.1 1164.4,809.1 1397.4,808.4 1450,806.3 1558.3,803.7"/>
<polyline points="1671.3,803.7 1822.7,804.4 2050,810.2 2213,818.4 2352.8,824.2 2515.8,825.8 2650,827 2866.6,827.7 3015.7,828.9 3134.5,828.2 3250,827.2 3636.8,821.9"/>
<polyline points="264,941.8 482.9,941.6 489.9,939.5 599.4,939.3 606.4,937.6 850,937.2 1036.3,938.8 1043.3,937.2 1106.2,937.2 1176.1,936 1257.6,934.4 1339.1,933 1450,932 1558.3,929.7"/>
<polyline points="1671.3,927.4 1776.1,924.4 2050,924.4 2224.7,923.7 2306.2,925.5 2650,925.5 2650,927.9 2761.8,929 2964.4,930.2 3022.7,931.4 3250,932 3487.7,932 3494.7,933.7 3515.7,933 3522.7,931.4 3636.8,931.4"/>
<polyline points="1055,343 979.3,338.4 843.5,337.2 649.4,337.2 552.3,338.4 498,346.1 350.5,350.8 416.5,358.6 501.9,364.4 641.6,367.1 699.8,367.1 843.5,362.5 979.3,359.3 1055,356.6"/>
<polyline points="1461.6,223.5 1300,221.9 1057,217.7 1018.2,217.7 967.7,226.6 919.2,242.1 967.7,251.8 1006.5,257.6 1154,265.4 1300,270 1397.5,273.2 1483,266.2 1618.8,250.6 1814.8,242.9 1783.8,226.2 1677,222.7 1574,223.5"/>
<polyline points="2221.8,294.1 2150,293.3 1987.6,289.5 1836.2,287.5 1776,299.2 1910,306.9 2150,318.6 2460.6,328.3 2654.7,330.2 2724.5,326.3 2755.6,320.5 2798.3,313.5 2538.2,306.1 2336.3,298.4"/>
<polyline points="2790.5,168.7 2654.7,172.2 2483.9,177.7 2448.9,188.5 2422.9,194.3 2499.4,203.3 2654.7,209.9 2771.1,214.9 2848.8,215.7 2945.8,213 2953.6,209.9 3019.6,196.3 3029.3,188.5 3075.9,178 3023.4,176.9 2905,173"/>
<polyline points="3021.2,347.4 2963.6,351.5 2970.5,355 2944.3,363.1 3199.4,375.3 3409,387.5 3489.4,391 3548.8,389.3 3636.9,384"/>
<polyline points="3134.8,345.6 3339.2,345.6 3478.9,351.5 3548.8,351.5 3636.9,349.8"/>
</g>
<g class="ls" font-size="58.3" fill="#000" text-anchor="middle" clip-path="url(#ax)">
<text transform="translate(1615 727.3) rotate(0) scale(1 1.045)" dy="0.344em">230</text>
<text transform="translate(1615 803.7) rotate(0) scale(1 1.045)" dy="0.344em">250</text>
<text transform="translate(1615 928.3) rotate(-1) scale(1 1.045)" dy="0.344em">273</text>
<text transform="translate(1111 347.7) rotate(7) scale(1 1.045)" dy="0.344em">210</text>
<text transform="translate(1517.9 225.4) rotate(0) scale(1 1.045)" dy="0.344em">210</text>
<text transform="translate(2278.1 297.2) rotate(2) scale(1 1.045)" dy="0.344em">210</text>
<text transform="translate(2848.8 173) rotate(1) scale(1 1.045)" dy="0.344em">210</text>
<text transform="translate(3078.9 347.4) rotate(-1) scale(1 1.045)" dy="0.344em">210</text>
<text transform="translate(2722.6 952.2) rotate(0) scale(1 1.045)" dy="0.344em">270</text>
</g>
<g stroke="#000" fill="none" stroke-linecap="butt">
<path d="M266 110.2V954.5H3640" stroke-width="6.2" stroke-linejoin="miter"/>
<path d="M266 113H347M266 218.2H347M266 323.4H347M266 428.6H347M266 533.8H347M266 638.9H347M266 744.1H347M266 849.3H347M266 954.5H347" stroke-width="5.6"/>
<path d="M266 363.5H278.8" stroke-width="4.6"/>
<path d="M266 954.5V892M546.9 954.5V892M827.8 954.5V892M1108.8 954.5V892M1389.7 954.5V892M1670.6 954.5V892M1951.5 954.5V892M2232.4 954.5V892M2513.3 954.5V892M2794.2 954.5V892M3075.2 954.5V892M3356.1 954.5V892M3637 954.5V892" stroke-width="6"/>
<path d="M336.2 954.5V923M406.5 954.5V923M476.7 954.5V923M617.1 954.5V923M687.4 954.5V923M757.6 954.5V923M898.1 954.5V923M968.3 954.5V923M1038.5 954.5V923M1179 954.5V923M1249.2 954.5V923M1319.4 954.5V923M1459.9 954.5V923M1530.1 954.5V923M1600.4 954.5V923M1740.8 954.5V923M1811 954.5V923M1881.3 954.5V923M2021.7 954.5V923M2092 954.5V923M2162.2 954.5V923M2302.6 954.5V923M2372.9 954.5V923M2443.1 954.5V923M2583.6 954.5V923M2653.8 954.5V923M2724 954.5V923M2864.5 954.5V923M2934.7 954.5V923M3004.9 954.5V923M3145.4 954.5V923M3215.6 954.5V923M3285.9 954.5V923M3426.3 954.5V923M3496.5 954.5V923M3566.8 954.5V923" stroke-width="6"/>
</g>
<g class="dj" fill="#000">
<g font-size="67" text-anchor="end">
<text x="232.8" y="138.2">28.2</text>
<text x="232.8" y="243.4">24.7</text>
<text x="232.8" y="348.6">21.3</text>
<text x="232.8" y="453.8">17.8</text>
<text x="232.8" y="559">14.4</text>
<text x="232.8" y="664.1">11.0</text>
<text x="232.8" y="769.3">7.58</text>
<text x="232.8" y="874.5">4.15</text>
<text x="232.8" y="979.7">0.71</text>
</g>
<g font-size="75" text-anchor="middle">
<text x="266.3" y="1034.9">0</text>
<text x="547.2" y="1034.9">2</text>
<text x="828.1" y="1034.9">4</text>
<text x="1109" y="1034.9">6</text>
<text x="1390" y="1034.9">8</text>
<text x="1670.9" y="1034.9">10</text>
<text x="1951.8" y="1034.9">12</text>
<text x="2232.7" y="1034.9">14</text>
<text x="2513.6" y="1034.9">16</text>
<text x="2794.6" y="1034.9">18</text>
<text x="3075.5" y="1034.9">20</text>
<text x="3356.4" y="1034.9">22</text>
<text x="3637.3" y="1034.9">24</text>
</g>
<text x="1952" y="1115" font-size="76.4" text-anchor="middle">Time (UTC)</text>
<text transform="translate(36 534) rotate(-90)" font-size="66.5" text-anchor="middle">Height AMSL (km)</text>
</g>
<text class="ls" x="1952" y="79" font-size="100.7" text-anchor="middle" fill="#000">Munich: 2025/10/27</text>
<rect x="266" y="1143.7" width="3371" height="56.3" fill="url(#cb)"/>
<g stroke="#000" fill="none">
<path d="M263 1200H3640" stroke-width="6"/>
<path d="M266 1200V1183M1389.7 1200V1183M2513.3 1200V1183M3637 1200V1183" stroke-width="6"/>
<path d="M378.4 1200V1190M490.7 1200V1190M603.1 1200V1190M715.5 1200V1190M827.8 1200V1190M940.2 1200V1190M1052.6 1200V1190M1164.9 1200V1190M1277.3 1200V1190M1502 1200V1190M1614.4 1200V1190M1726.8 1200V1190M1839.1 1200V1190M1951.5 1200V1190M2063.9 1200V1190M2176.2 1200V1190M2288.6 1200V1190M2401 1200V1190M2625.7 1200V1190M2738.1 1200V1190M2850.4 1200V1190M2962.8 1200V1190M3075.2 1200V1190M3187.5 1200V1190M3299.9 1200V1190M3412.3 1200V1190M3524.6 1200V1190" stroke-width="6"/>
</g>
<g class="dj" font-size="58.8" fill="#000" text-anchor="middle">
<text x="257" y="1262.6">Clear</text>
<text x="1389.7" y="1262.6">Water</text>
<text x="2513.3" y="1262.6">Ice</text>
<text x="3637" y="1262.6">Other</text>
</g>
<g fill="#fff" stroke="#000" stroke-width="6">
<rect x="282" y="1313" width="617.7" height="141.4"/>
<rect x="1027" y="1313" width="584.7" height="141.4"/>
<rect x="321" y="1500" width="578.7" height="148.4"/>
<rect x="2327.8" y="1313" width="559.4" height="402"/>
</g>
<circle cx="319" cy="1383.5" r="16.9" fill="#32cd32"/>
<circle cx="1063.6" cy="1383.5" r="16.9" fill="#0000ff"/>
<circle cx="358" cy="1574" r="16.9" fill="#808080"/>
<g class="dj" font-size="58.5" fill="#000">
<text x="356" y="1405.2">FCI-CTTH SL Wat</text>
<text x="1101.5" y="1405.2">FCI-CTTH SL Ice</text>
<text x="394" y="1597">FCI-CTTH Other</text>
<text x="2403" y="1405.3">ACTRIS CBH</text>
<text x="2403" y="1491.9">ACTRIS CTH</text>
<text x="2403" y="1578.5">ACTRIS CBH BL</text>
<text x="2403" y="1665.1">ACTRIS CTH BL</text>
</g>
<polygon points="2364.9,1363.4 2347.4,1394 2382.4,1394" fill="#ff0000"/>
<polygon points="2364.9,1490.4 2347.4,1459.8 2382.4,1459.8" fill="#ff0000"/>
<polygon points="2364.9,1536.9 2347.4,1567.5 2382.4,1567.5" fill="#ff0000"/>
<polygon points="2364.9,1548.7 2357.6,1561.6 2372.2,1561.6" fill="#ffffff"/>
<polygon points="2364.9,1663.3 2347.4,1632.7 2382.4,1632.7" fill="#ff0000"/>
<polygon points="2364.9,1651.5 2357.6,1638.6 2372.2,1638.6" fill="#ffffff"/>
</svg></body></html>
